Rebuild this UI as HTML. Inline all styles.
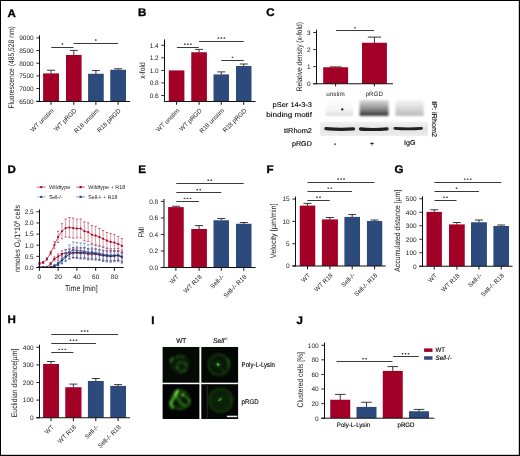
<!DOCTYPE html>
<html><head><meta charset="utf-8"><title>Figure</title>
<style>html,body{margin:0;padding:0;background:#fff;}body{width:520px;height:456px;overflow:hidden;font-family:"Liberation Sans",sans-serif;}svg{display:block;will-change:transform;}</style>
</head><body>
<svg width="520" height="456" viewBox="0 0 520 456" font-family="'Liberation Sans', sans-serif" text-rendering="geometricPrecision">
<defs>
<filter id="bl05" x="-50%" y="-50%" width="200%" height="200%"><feGaussianBlur color-interpolation-filters="sRGB" stdDeviation="0.4"/></filter>
<filter id="bl07" x="-50%" y="-50%" width="200%" height="200%"><feGaussianBlur color-interpolation-filters="sRGB" stdDeviation="0.6"/></filter>
<filter id="bl08" x="-20%" y="-20%" width="140%" height="140%"><feGaussianBlur color-interpolation-filters="sRGB" stdDeviation="0.75"/></filter>
<filter id="bl1" x="-20%" y="-20%" width="140%" height="140%"><feGaussianBlur color-interpolation-filters="sRGB" stdDeviation="0.9"/></filter>
<filter id="bl12" x="-20%" y="-20%" width="140%" height="140%"><feGaussianBlur color-interpolation-filters="sRGB" stdDeviation="1.2"/></filter>
<linearGradient id="lane1" x1="0" y1="0" x2="0" y2="1"><stop offset="0" stop-color="#fdfdfd"/><stop offset="0.6" stop-color="#f5f5f5"/><stop offset="0.9" stop-color="#e4e4e4"/><stop offset="1" stop-color="#d0d0d0"/></linearGradient>
<linearGradient id="lane2" x1="0" y1="0" x2="0" y2="1"><stop offset="0" stop-color="#dcdcdc"/><stop offset="0.4" stop-color="#a6a6a6"/><stop offset="0.75" stop-color="#6c6c6c"/><stop offset="0.92" stop-color="#3a3a3a"/><stop offset="1" stop-color="#1c1c1c"/></linearGradient>
<linearGradient id="lane3" x1="0" y1="0" x2="0" y2="1"><stop offset="0" stop-color="#f6f6f6"/><stop offset="0.5" stop-color="#dcdcdc"/><stop offset="0.9" stop-color="#c0c0c0"/><stop offset="1" stop-color="#b0b0b0"/></linearGradient>
<linearGradient id="lower" x1="0" y1="0" x2="0" y2="1"><stop offset="0" stop-color="#f2f2f2"/><stop offset="0.5" stop-color="#e4e4e4"/><stop offset="1" stop-color="#ececec"/></linearGradient>
<clipPath id="clipD"><rect x="36" y="205" width="90" height="62.4"/></clipPath>
<clipPath id="c1"><rect x="162.6" y="347" width="36.8" height="35.7"/></clipPath>
<clipPath id="c2"><rect x="201.3" y="347" width="36.8" height="35.7"/></clipPath>
<clipPath id="c3"><rect x="162.6" y="384.2" width="36.8" height="34.8"/></clipPath>
<clipPath id="c4"><rect x="201.3" y="384.2" width="36.8" height="34.8"/></clipPath>
</defs>
<rect x="0" y="0" width="520" height="456" fill="#fff"/>
<text transform="translate(7.60,16.90) scale(1.05,1)" font-size="11.0" font-weight="bold" fill="#000" stroke="#000" stroke-width="0.35" stroke-linejoin="round">A</text>
<text font-size="8.0" text-anchor="middle" fill="#1a1a1a" textLength="82.30" lengthAdjust="spacingAndGlyphs" transform="translate(14.00,67.40) rotate(-90)" >Fluorescence (485,528 nm)</text>
<line x1="51.05" y1="70.25" x2="51.05" y2="73.70" stroke="#222" stroke-width="0.9" />
<line x1="47.05" y1="70.25" x2="55.05" y2="70.25" stroke="#222" stroke-width="0.9" />
<rect x="43.10" y="73.40" width="15.90" height="27.85" fill="#a30028"/>
<line x1="73.80" y1="50.40" x2="73.80" y2="55.30" stroke="#222" stroke-width="0.9" />
<line x1="69.80" y1="50.40" x2="77.80" y2="50.40" stroke="#222" stroke-width="0.9" />
<rect x="66.00" y="55.00" width="15.60" height="46.25" fill="#a30028"/>
<line x1="95.92" y1="70.60" x2="95.92" y2="74.05" stroke="#222" stroke-width="0.9" />
<line x1="91.92" y1="70.60" x2="99.92" y2="70.60" stroke="#222" stroke-width="0.9" />
<rect x="88.10" y="73.75" width="15.65" height="27.50" fill="#2d4a7c"/>
<line x1="118.12" y1="68.75" x2="118.12" y2="70.05" stroke="#222" stroke-width="0.9" />
<line x1="114.12" y1="68.75" x2="122.12" y2="68.75" stroke="#222" stroke-width="0.9" />
<rect x="110.25" y="69.75" width="15.75" height="31.50" fill="#2d4a7c"/>
<line x1="39.50" y1="35.30" x2="39.50" y2="101.75" stroke="#111" stroke-width="1.0" />
<line x1="36.30" y1="37.90" x2="39.50" y2="37.90" stroke="#111" stroke-width="0.9" />
<text font-size="6.5" text-anchor="end" fill="#1a1a1a" x="33.70" y="40.24" >9000</text>
<line x1="36.30" y1="50.57" x2="39.50" y2="50.57" stroke="#111" stroke-width="0.9" />
<text font-size="6.5" text-anchor="end" fill="#1a1a1a" x="33.70" y="52.91" >8500</text>
<line x1="36.30" y1="63.24" x2="39.50" y2="63.24" stroke="#111" stroke-width="0.9" />
<text font-size="6.5" text-anchor="end" fill="#1a1a1a" x="33.70" y="65.58" >8000</text>
<line x1="36.30" y1="75.91" x2="39.50" y2="75.91" stroke="#111" stroke-width="0.9" />
<text font-size="6.5" text-anchor="end" fill="#1a1a1a" x="33.70" y="78.25" >7500</text>
<line x1="36.30" y1="88.58" x2="39.50" y2="88.58" stroke="#111" stroke-width="0.9" />
<text font-size="6.5" text-anchor="end" fill="#1a1a1a" x="33.70" y="90.92" >7000</text>
<line x1="36.30" y1="101.25" x2="39.50" y2="101.25" stroke="#111" stroke-width="0.9" />
<text font-size="6.5" text-anchor="end" fill="#1a1a1a" x="33.70" y="103.59" >6500</text>
<line x1="36.30" y1="101.50" x2="130.00" y2="101.50" stroke="#111" stroke-width="1.0" />
<line x1="51.05" y1="101.50" x2="51.05" y2="104.80" stroke="#111" stroke-width="1.0" />
<line x1="73.80" y1="101.50" x2="73.80" y2="104.80" stroke="#111" stroke-width="1.0" />
<line x1="95.90" y1="101.50" x2="95.90" y2="104.80" stroke="#111" stroke-width="1.0" />
<line x1="118.10" y1="101.50" x2="118.10" y2="104.80" stroke="#111" stroke-width="1.0" />
<line x1="51.25" y1="47.50" x2="73.50" y2="47.50" stroke="#3a3a3a" stroke-width="1.0" />
<rect x="61.58" y="43.35" width="1.6" height="1.4" rx="0.3" fill="#3a3a3a"/>
<line x1="73.50" y1="43.50" x2="118.00" y2="43.50" stroke="#3a3a3a" stroke-width="1.0" />
<rect x="94.95" y="39.35" width="1.6" height="1.4" rx="0.3" fill="#3a3a3a"/>
<text font-size="6.3" text-anchor="end" fill="#1a1a1a" transform="translate(54.25,111.05) rotate(-45)" >WT unstim</text>
<text font-size="6.3" text-anchor="end" fill="#1a1a1a" transform="translate(77.00,111.05) rotate(-45)" >WT pRGD</text>
<text font-size="6.3" text-anchor="end" fill="#1a1a1a" transform="translate(99.10,111.05) rotate(-45)" >R18 unstim</text>
<text font-size="6.3" text-anchor="end" fill="#1a1a1a" transform="translate(121.30,111.05) rotate(-45)" >R18 pRGD</text>
<text transform="translate(138.10,16.40) scale(1.05,1)" font-size="11.0" font-weight="bold" fill="#000" stroke="#000" stroke-width="0.35" stroke-linejoin="round">B</text>
<text font-size="8.0" text-anchor="middle" fill="#1a1a1a" textLength="16.30" lengthAdjust="spacingAndGlyphs" transform="translate(144.60,70.55) rotate(-90)" >x-fold</text>
<rect x="168.75" y="70.40" width="15.65" height="30.85" fill="#a30028"/>
<line x1="199.07" y1="49.40" x2="199.07" y2="52.55" stroke="#222" stroke-width="0.9" />
<line x1="195.07" y1="49.40" x2="203.07" y2="49.40" stroke="#222" stroke-width="0.9" />
<rect x="191.25" y="52.25" width="15.65" height="49.00" fill="#a30028"/>
<line x1="221.25" y1="71.90" x2="221.25" y2="74.70" stroke="#222" stroke-width="0.9" />
<line x1="217.25" y1="71.90" x2="225.25" y2="71.90" stroke="#222" stroke-width="0.9" />
<rect x="213.50" y="74.40" width="15.50" height="26.85" fill="#2d4a7c"/>
<line x1="243.75" y1="64.00" x2="243.75" y2="66.30" stroke="#222" stroke-width="0.9" />
<line x1="239.75" y1="64.00" x2="247.75" y2="64.00" stroke="#222" stroke-width="0.9" />
<rect x="236.00" y="66.00" width="15.50" height="35.25" fill="#2d4a7c"/>
<line x1="164.50" y1="39.40" x2="164.50" y2="101.75" stroke="#111" stroke-width="1.0" />
<line x1="161.30" y1="45.25" x2="164.50" y2="45.25" stroke="#111" stroke-width="0.9" />
<text font-size="6.5" text-anchor="end" fill="#1a1a1a" x="158.70" y="47.59" >1.4</text>
<line x1="161.30" y1="57.80" x2="164.50" y2="57.80" stroke="#111" stroke-width="0.9" />
<text font-size="6.5" text-anchor="end" fill="#1a1a1a" x="158.70" y="60.14" >1.2</text>
<line x1="161.30" y1="70.40" x2="164.50" y2="70.40" stroke="#111" stroke-width="0.9" />
<text font-size="6.5" text-anchor="end" fill="#1a1a1a" x="158.70" y="72.74" >1.0</text>
<line x1="161.30" y1="82.90" x2="164.50" y2="82.90" stroke="#111" stroke-width="0.9" />
<text font-size="6.5" text-anchor="end" fill="#1a1a1a" x="158.70" y="85.24" >0.8</text>
<line x1="161.30" y1="95.50" x2="164.50" y2="95.50" stroke="#111" stroke-width="0.9" />
<text font-size="6.5" text-anchor="end" fill="#1a1a1a" x="158.70" y="97.84" >0.6</text>
<line x1="164.50" y1="101.50" x2="255.60" y2="101.50" stroke="#111" stroke-width="1.0" />
<line x1="176.60" y1="101.50" x2="176.60" y2="104.80" stroke="#111" stroke-width="1.0" />
<line x1="199.10" y1="101.50" x2="199.10" y2="104.80" stroke="#111" stroke-width="1.0" />
<line x1="221.25" y1="101.50" x2="221.25" y2="104.80" stroke="#111" stroke-width="1.0" />
<line x1="243.75" y1="101.50" x2="243.75" y2="104.80" stroke="#111" stroke-width="1.0" />
<line x1="176.90" y1="47.50" x2="198.75" y2="47.50" stroke="#3a3a3a" stroke-width="1.0" />
<rect x="184.02" y="43.50" width="1.6" height="1.4" rx="0.3" fill="#3a3a3a"/>
<rect x="187.02" y="43.50" width="1.6" height="1.4" rx="0.3" fill="#3a3a3a"/>
<rect x="190.02" y="43.50" width="1.6" height="1.4" rx="0.3" fill="#3a3a3a"/>
<line x1="199.00" y1="41.50" x2="243.75" y2="41.50" stroke="#3a3a3a" stroke-width="1.0" />
<rect x="217.57" y="37.35" width="1.6" height="1.4" rx="0.3" fill="#3a3a3a"/>
<rect x="220.57" y="37.35" width="1.6" height="1.4" rx="0.3" fill="#3a3a3a"/>
<rect x="223.57" y="37.35" width="1.6" height="1.4" rx="0.3" fill="#3a3a3a"/>
<line x1="221.25" y1="60.50" x2="243.75" y2="60.50" stroke="#3a3a3a" stroke-width="1.0" />
<rect x="231.70" y="56.70" width="1.6" height="1.4" rx="0.3" fill="#3a3a3a"/>
<text font-size="6.3" text-anchor="end" fill="#1a1a1a" transform="translate(179.80,111.05) rotate(-45)" >WT unstim</text>
<text font-size="6.3" text-anchor="end" fill="#1a1a1a" transform="translate(202.30,111.05) rotate(-45)" >WT pRGD</text>
<text font-size="6.3" text-anchor="end" fill="#1a1a1a" transform="translate(224.45,111.05) rotate(-45)" >R18 unstim</text>
<text font-size="6.3" text-anchor="end" fill="#1a1a1a" transform="translate(246.95,111.05) rotate(-45)" >R18 pRGD</text>
<text transform="translate(266.30,16.30) scale(1.05,1)" font-size="11.0" font-weight="bold" fill="#000" stroke="#000" stroke-width="0.35" stroke-linejoin="round">C</text>
<text font-size="8.0" text-anchor="middle" fill="#1a1a1a" textLength="69.20" lengthAdjust="spacingAndGlyphs" transform="translate(302.10,56.70) rotate(-90)" >Relative density (x-fold)</text>
<line x1="335.65" y1="66.90" x2="335.65" y2="67.55" stroke="#222" stroke-width="0.9" />
<line x1="329.65" y1="66.90" x2="341.65" y2="66.90" stroke="#222" stroke-width="0.9" />
<rect x="323.20" y="67.25" width="24.90" height="16.50" fill="#a30028"/>
<line x1="374.45" y1="37.10" x2="374.45" y2="43.05" stroke="#222" stroke-width="0.9" />
<line x1="367.85" y1="37.10" x2="381.05" y2="37.10" stroke="#222" stroke-width="0.9" />
<rect x="362.00" y="42.75" width="24.90" height="41.00" fill="#a30028"/>
<line x1="316.50" y1="29.75" x2="316.50" y2="84.25" stroke="#111" stroke-width="1.0" />
<line x1="313.30" y1="32.50" x2="316.50" y2="32.50" stroke="#111" stroke-width="0.9" />
<text font-size="6.5" text-anchor="end" fill="#1a1a1a" x="310.70" y="34.84" >3</text>
<line x1="313.30" y1="49.60" x2="316.50" y2="49.60" stroke="#111" stroke-width="0.9" />
<text font-size="6.5" text-anchor="end" fill="#1a1a1a" x="310.70" y="51.94" >2</text>
<line x1="313.30" y1="66.65" x2="316.50" y2="66.65" stroke="#111" stroke-width="0.9" />
<text font-size="6.5" text-anchor="end" fill="#1a1a1a" x="310.70" y="68.99" >1</text>
<line x1="313.30" y1="83.75" x2="316.50" y2="83.75" stroke="#111" stroke-width="0.9" />
<text font-size="6.5" text-anchor="end" fill="#1a1a1a" x="310.70" y="86.09" >0</text>
<line x1="313.30" y1="83.75" x2="392.90" y2="83.75" stroke="#111" stroke-width="1.0" />
<line x1="335.60" y1="83.75" x2="335.60" y2="86.35" stroke="#111" stroke-width="1.0" />
<line x1="374.40" y1="83.75" x2="374.40" y2="86.35" stroke="#111" stroke-width="1.0" />
<line x1="336.00" y1="30.50" x2="374.00" y2="30.50" stroke="#3a3a3a" stroke-width="1.0" />
<rect x="354.20" y="27.10" width="1.6" height="1.4" rx="0.3" fill="#3a3a3a"/>
<text font-size="6.3" text-anchor="middle" fill="#1a1a1a" textLength="18.50" lengthAdjust="spacingAndGlyphs" x="335.50" y="96.00" >unstim</text>
<text font-size="6.3" text-anchor="middle" fill="#1a1a1a" textLength="17.30" lengthAdjust="spacingAndGlyphs" x="374.30" y="96.00" >pRGD</text>
<g filter="url(#bl1)">
<rect x="325.6" y="100" width="27.6" height="15.8" fill="url(#lane1)"/>
<rect x="359.6" y="100" width="29" height="15.8" fill="url(#lane2)"/>
<rect x="395.4" y="100" width="28.4" height="15.8" fill="url(#lane3)"/>
</g>
<circle cx="342.3" cy="109.4" r="1.15" fill="#1a1a1a" filter="url(#bl05)"/>
<rect x="320.3" y="121.7" width="107.6" height="14.2" fill="url(#lower)"/>
<g filter="url(#bl07)">
<path d="M326,128.6 Q340,130.0 353.5,128.9" stroke="#202020" stroke-width="3.3" fill="none" stroke-linecap="round"/>
<path d="M360.5,129.0 Q374,130.2 387,128.9" stroke="#202020" stroke-width="3.3" fill="none" stroke-linecap="round"/>
<path d="M395,128.4 Q408,129.4 421.5,128.4" stroke="#222" stroke-width="2.9" fill="none" stroke-linecap="round"/>
</g>
<text font-size="7.0" text-anchor="end" fill="#000" stroke="#000" stroke-width="0.12" textLength="39.30" lengthAdjust="spacingAndGlyphs" x="311.90" y="106.90" >pSer 14-3-3</text>
<text font-size="7.0" text-anchor="end" fill="#000" stroke="#000" stroke-width="0.12" textLength="45.60" lengthAdjust="spacingAndGlyphs" x="311.90" y="116.80" >binding motif</text>
<text font-size="7.0" text-anchor="end" fill="#000" stroke="#000" stroke-width="0.12" textLength="27.90" lengthAdjust="spacingAndGlyphs" x="311.90" y="132.50" >tIRhom2</text>
<text font-size="7.0" text-anchor="end" fill="#000" stroke="#000" stroke-width="0.12" textLength="20.00" lengthAdjust="spacingAndGlyphs" x="311.90" y="146.30" >pRGD</text>
<text font-size="7.0" text-anchor="middle" fill="#000" stroke="#000" stroke-width="0.12" x="335.00" y="145.60" >-</text>
<text font-size="7.0" text-anchor="middle" fill="#000" stroke="#000" stroke-width="0.12" x="372.00" y="145.80" >+</text>
<text font-size="7.0" text-anchor="middle" fill="#000" stroke="#000" stroke-width="0.12" textLength="11.50" lengthAdjust="spacingAndGlyphs" x="409.80" y="145.30" >IgG</text>
<text font-size="7.0" text-anchor="start" fill="#000" stroke="#000" stroke-width="0.12" textLength="35.60" lengthAdjust="spacingAndGlyphs" transform="translate(432.20,101.30) rotate(90)" >IP: iRhom2</text>
<text transform="translate(7.50,172.60) scale(1.05,1)" font-size="11.0" font-weight="bold" fill="#000" stroke="#000" stroke-width="0.35" stroke-linejoin="round">D</text>
<line x1="36.90" y1="187.10" x2="45.60" y2="187.10" stroke="#c0405c" stroke-width="0.8" />
<circle cx="41.25" cy="187.10" r="1.2" fill="#a30028"/>
<text font-size="5.6" text-anchor="start" fill="#1a1a1a" textLength="21.50" lengthAdjust="spacingAndGlyphs" x="48.90" y="189.10" >Wildtype</text>
<line x1="36.90" y1="196.90" x2="45.60" y2="196.90" stroke="#8aa0c8" stroke-width="0.8" />
<circle cx="41.25" cy="196.90" r="1.2" fill="#24407a"/>
<text font-size="5.6" text-anchor="start" fill="#1a1a1a" textLength="13.50" lengthAdjust="spacingAndGlyphs" x="48.90" y="198.90" >Sell-/-</text>
<line x1="76.30" y1="187.10" x2="85.00" y2="187.10" stroke="#c0405c" stroke-width="0.8" />
<rect x="79.55" y="186.00" width="2.2" height="2.2" fill="#a30028"/>
<text font-size="5.6" text-anchor="start" fill="#1a1a1a" textLength="37.00" lengthAdjust="spacingAndGlyphs" x="88.30" y="189.10" >Wildtype + R18</text>
<line x1="76.30" y1="196.90" x2="85.00" y2="196.90" stroke="#6f88b8" stroke-width="0.8" />
<rect x="79.55" y="195.80" width="2.2" height="2.2" fill="#24407a"/>
<text font-size="5.6" text-anchor="start" fill="#1a1a1a" textLength="29.00" lengthAdjust="spacingAndGlyphs" x="88.30" y="198.90" >Sell-/- + R18</text>
<text font-size="8.0" text-anchor="middle" fill="#1a1a1a" textLength="67.00" lengthAdjust="spacingAndGlyphs" transform="translate(19.50,238.40) rotate(-90)" >nmoles O<tspan font-size="4.8" dy="1.4">2</tspan><tspan dy="-1.4">/1*10</tspan><tspan font-size="4.8" dy="-2.8">6</tspan><tspan dy="2.8"> cells</tspan></text>
<g clip-path="url(#clipD)">
<line x1="39.40" y1="266.80" x2="39.40" y2="267.20" stroke="#cc6078" stroke-width="0.7" />
<line x1="38.25" y1="266.80" x2="40.55" y2="266.80" stroke="#b83050" stroke-width="0.75" />
<line x1="43.15" y1="266.80" x2="43.15" y2="267.20" stroke="#cc6078" stroke-width="0.7" />
<line x1="42.00" y1="266.80" x2="44.30" y2="266.80" stroke="#b83050" stroke-width="0.75" />
<line x1="46.90" y1="266.40" x2="46.90" y2="267.20" stroke="#cc6078" stroke-width="0.7" />
<line x1="45.75" y1="266.40" x2="48.05" y2="266.40" stroke="#b83050" stroke-width="0.75" />
<line x1="50.65" y1="262.50" x2="50.65" y2="264.90" stroke="#cc6078" stroke-width="0.7" />
<line x1="49.50" y1="262.50" x2="51.80" y2="262.50" stroke="#b83050" stroke-width="0.75" />
<line x1="49.50" y1="264.90" x2="51.80" y2="264.90" stroke="#b83050" stroke-width="0.75" />
<line x1="54.40" y1="256.90" x2="54.40" y2="260.90" stroke="#cc6078" stroke-width="0.7" />
<line x1="53.25" y1="256.90" x2="55.55" y2="256.90" stroke="#b83050" stroke-width="0.75" />
<line x1="53.25" y1="260.90" x2="55.55" y2="260.90" stroke="#b83050" stroke-width="0.75" />
<line x1="58.15" y1="253.90" x2="58.15" y2="259.10" stroke="#cc6078" stroke-width="0.7" />
<line x1="57.00" y1="253.90" x2="59.30" y2="253.90" stroke="#b83050" stroke-width="0.75" />
<line x1="57.00" y1="259.10" x2="59.30" y2="259.10" stroke="#b83050" stroke-width="0.75" />
<line x1="61.90" y1="250.90" x2="61.90" y2="256.90" stroke="#cc6078" stroke-width="0.7" />
<line x1="60.75" y1="250.90" x2="63.05" y2="250.90" stroke="#b83050" stroke-width="0.75" />
<line x1="60.75" y1="256.90" x2="63.05" y2="256.90" stroke="#b83050" stroke-width="0.75" />
<line x1="65.65" y1="249.50" x2="65.65" y2="256.50" stroke="#cc6078" stroke-width="0.7" />
<line x1="64.50" y1="249.50" x2="66.80" y2="249.50" stroke="#b83050" stroke-width="0.75" />
<line x1="64.50" y1="256.50" x2="66.80" y2="256.50" stroke="#b83050" stroke-width="0.75" />
<line x1="69.40" y1="248.30" x2="69.40" y2="256.30" stroke="#cc6078" stroke-width="0.7" />
<line x1="68.25" y1="248.30" x2="70.55" y2="248.30" stroke="#b83050" stroke-width="0.75" />
<line x1="68.25" y1="256.30" x2="70.55" y2="256.30" stroke="#b83050" stroke-width="0.75" />
<line x1="73.15" y1="248.70" x2="73.15" y2="257.70" stroke="#cc6078" stroke-width="0.7" />
<line x1="72.00" y1="248.70" x2="74.30" y2="248.70" stroke="#b83050" stroke-width="0.75" />
<line x1="72.00" y1="257.70" x2="74.30" y2="257.70" stroke="#b83050" stroke-width="0.75" />
<line x1="76.90" y1="248.40" x2="76.90" y2="257.60" stroke="#cc6078" stroke-width="0.7" />
<line x1="75.75" y1="248.40" x2="78.05" y2="248.40" stroke="#b83050" stroke-width="0.75" />
<line x1="75.75" y1="257.60" x2="78.05" y2="257.60" stroke="#b83050" stroke-width="0.75" />
<line x1="80.65" y1="248.60" x2="80.65" y2="258.20" stroke="#cc6078" stroke-width="0.7" />
<line x1="79.50" y1="248.60" x2="81.80" y2="248.60" stroke="#b83050" stroke-width="0.75" />
<line x1="79.50" y1="258.20" x2="81.80" y2="258.20" stroke="#b83050" stroke-width="0.75" />
<line x1="84.40" y1="248.20" x2="84.40" y2="258.20" stroke="#cc6078" stroke-width="0.7" />
<line x1="83.25" y1="248.20" x2="85.55" y2="248.20" stroke="#b83050" stroke-width="0.75" />
<line x1="83.25" y1="258.20" x2="85.55" y2="258.20" stroke="#b83050" stroke-width="0.75" />
<line x1="88.15" y1="249.20" x2="88.15" y2="259.20" stroke="#cc6078" stroke-width="0.7" />
<line x1="87.00" y1="249.20" x2="89.30" y2="249.20" stroke="#b83050" stroke-width="0.75" />
<line x1="87.00" y1="259.20" x2="89.30" y2="259.20" stroke="#b83050" stroke-width="0.75" />
<line x1="91.90" y1="249.40" x2="91.90" y2="259.80" stroke="#cc6078" stroke-width="0.7" />
<line x1="90.75" y1="249.40" x2="93.05" y2="249.40" stroke="#b83050" stroke-width="0.75" />
<line x1="90.75" y1="259.80" x2="93.05" y2="259.80" stroke="#b83050" stroke-width="0.75" />
<line x1="95.65" y1="248.80" x2="95.65" y2="259.20" stroke="#cc6078" stroke-width="0.7" />
<line x1="94.50" y1="248.80" x2="96.80" y2="248.80" stroke="#b83050" stroke-width="0.75" />
<line x1="94.50" y1="259.20" x2="96.80" y2="259.20" stroke="#b83050" stroke-width="0.75" />
<line x1="99.40" y1="249.80" x2="99.40" y2="259.80" stroke="#cc6078" stroke-width="0.7" />
<line x1="98.25" y1="249.80" x2="100.55" y2="249.80" stroke="#b83050" stroke-width="0.75" />
<line x1="98.25" y1="259.80" x2="100.55" y2="259.80" stroke="#b83050" stroke-width="0.75" />
<line x1="103.15" y1="250.20" x2="103.15" y2="260.20" stroke="#cc6078" stroke-width="0.7" />
<line x1="102.00" y1="250.20" x2="104.30" y2="250.20" stroke="#b83050" stroke-width="0.75" />
<line x1="102.00" y1="260.20" x2="104.30" y2="260.20" stroke="#b83050" stroke-width="0.75" />
<line x1="106.90" y1="250.60" x2="106.90" y2="260.60" stroke="#cc6078" stroke-width="0.7" />
<line x1="105.75" y1="250.60" x2="108.05" y2="250.60" stroke="#b83050" stroke-width="0.75" />
<line x1="105.75" y1="260.60" x2="108.05" y2="260.60" stroke="#b83050" stroke-width="0.75" />
<line x1="110.65" y1="250.60" x2="110.65" y2="261.00" stroke="#cc6078" stroke-width="0.7" />
<line x1="109.50" y1="250.60" x2="111.80" y2="250.60" stroke="#b83050" stroke-width="0.75" />
<line x1="109.50" y1="261.00" x2="111.80" y2="261.00" stroke="#b83050" stroke-width="0.75" />
<line x1="114.40" y1="250.60" x2="114.40" y2="260.60" stroke="#cc6078" stroke-width="0.7" />
<line x1="113.25" y1="250.60" x2="115.55" y2="250.60" stroke="#b83050" stroke-width="0.75" />
<line x1="113.25" y1="260.60" x2="115.55" y2="260.60" stroke="#b83050" stroke-width="0.75" />
<line x1="118.15" y1="250.40" x2="118.15" y2="260.40" stroke="#cc6078" stroke-width="0.7" />
<line x1="117.00" y1="250.40" x2="119.30" y2="250.40" stroke="#b83050" stroke-width="0.75" />
<line x1="117.00" y1="260.40" x2="119.30" y2="260.40" stroke="#b83050" stroke-width="0.75" />
<line x1="121.90" y1="251.80" x2="121.90" y2="261.80" stroke="#cc6078" stroke-width="0.7" />
<line x1="120.75" y1="251.80" x2="123.05" y2="251.80" stroke="#b83050" stroke-width="0.75" />
<line x1="120.75" y1="261.80" x2="123.05" y2="261.80" stroke="#b83050" stroke-width="0.75" />
<polyline points="39.40,267.30 43.15,267.30 46.90,267.00 50.65,263.70 54.40,258.90 58.15,256.50 61.90,253.90 65.65,253.00 69.40,252.30 73.15,253.20 76.90,253.00 80.65,253.40 84.40,253.20 88.15,254.20 91.90,254.60 95.65,254.00 99.40,254.80 103.15,255.20 106.90,255.60 110.65,255.80 114.40,255.60 118.15,255.40 121.90,256.80" fill="none" stroke="#b01035" stroke-width="0.8"/>
<rect x="38.40" y="266.30" width="2" height="2" fill="#a30028"/>
<rect x="42.15" y="266.30" width="2" height="2" fill="#a30028"/>
<rect x="45.90" y="266.00" width="2" height="2" fill="#a30028"/>
<rect x="49.65" y="262.70" width="2" height="2" fill="#a30028"/>
<rect x="53.40" y="257.90" width="2" height="2" fill="#a30028"/>
<rect x="57.15" y="255.50" width="2" height="2" fill="#a30028"/>
<rect x="60.90" y="252.90" width="2" height="2" fill="#a30028"/>
<rect x="64.65" y="252.00" width="2" height="2" fill="#a30028"/>
<rect x="68.40" y="251.30" width="2" height="2" fill="#a30028"/>
<rect x="72.15" y="252.20" width="2" height="2" fill="#a30028"/>
<rect x="75.90" y="252.00" width="2" height="2" fill="#a30028"/>
<rect x="79.65" y="252.40" width="2" height="2" fill="#a30028"/>
<rect x="83.40" y="252.20" width="2" height="2" fill="#a30028"/>
<rect x="87.15" y="253.20" width="2" height="2" fill="#a30028"/>
<rect x="90.90" y="253.60" width="2" height="2" fill="#a30028"/>
<rect x="94.65" y="253.00" width="2" height="2" fill="#a30028"/>
<rect x="98.40" y="253.80" width="2" height="2" fill="#a30028"/>
<rect x="102.15" y="254.20" width="2" height="2" fill="#a30028"/>
<rect x="105.90" y="254.60" width="2" height="2" fill="#a30028"/>
<rect x="109.65" y="254.80" width="2" height="2" fill="#a30028"/>
<rect x="113.40" y="254.60" width="2" height="2" fill="#a30028"/>
<rect x="117.15" y="254.40" width="2" height="2" fill="#a30028"/>
<rect x="120.90" y="255.80" width="2" height="2" fill="#a30028"/>
<line x1="39.40" y1="267.00" x2="39.40" y2="267.20" stroke="#9cb0d6" stroke-width="0.7" />
<line x1="38.25" y1="267.00" x2="40.55" y2="267.00" stroke="#4a66a0" stroke-width="0.75" />
<line x1="43.15" y1="267.00" x2="43.15" y2="267.20" stroke="#9cb0d6" stroke-width="0.7" />
<line x1="42.00" y1="267.00" x2="44.30" y2="267.00" stroke="#4a66a0" stroke-width="0.75" />
<line x1="46.90" y1="267.00" x2="46.90" y2="267.20" stroke="#9cb0d6" stroke-width="0.7" />
<line x1="45.75" y1="267.00" x2="48.05" y2="267.00" stroke="#4a66a0" stroke-width="0.75" />
<line x1="50.65" y1="266.60" x2="50.65" y2="267.20" stroke="#9cb0d6" stroke-width="0.7" />
<line x1="49.50" y1="266.60" x2="51.80" y2="266.60" stroke="#4a66a0" stroke-width="0.75" />
<line x1="54.40" y1="264.50" x2="54.40" y2="266.90" stroke="#9cb0d6" stroke-width="0.7" />
<line x1="53.25" y1="264.50" x2="55.55" y2="264.50" stroke="#4a66a0" stroke-width="0.75" />
<line x1="53.25" y1="266.90" x2="55.55" y2="266.90" stroke="#4a66a0" stroke-width="0.75" />
<line x1="58.15" y1="260.60" x2="58.15" y2="265.40" stroke="#9cb0d6" stroke-width="0.7" />
<line x1="57.00" y1="260.60" x2="59.30" y2="260.60" stroke="#4a66a0" stroke-width="0.75" />
<line x1="57.00" y1="265.40" x2="59.30" y2="265.40" stroke="#4a66a0" stroke-width="0.75" />
<line x1="61.90" y1="255.60" x2="61.90" y2="263.60" stroke="#9cb0d6" stroke-width="0.7" />
<line x1="60.75" y1="255.60" x2="63.05" y2="255.60" stroke="#4a66a0" stroke-width="0.75" />
<line x1="60.75" y1="263.60" x2="63.05" y2="263.60" stroke="#4a66a0" stroke-width="0.75" />
<line x1="65.65" y1="250.10" x2="65.65" y2="261.10" stroke="#9cb0d6" stroke-width="0.7" />
<line x1="64.50" y1="250.10" x2="66.80" y2="250.10" stroke="#4a66a0" stroke-width="0.75" />
<line x1="64.50" y1="261.10" x2="66.80" y2="261.10" stroke="#4a66a0" stroke-width="0.75" />
<line x1="69.40" y1="245.10" x2="69.40" y2="259.10" stroke="#9cb0d6" stroke-width="0.7" />
<line x1="68.25" y1="245.10" x2="70.55" y2="245.10" stroke="#4a66a0" stroke-width="0.75" />
<line x1="68.25" y1="259.10" x2="70.55" y2="259.10" stroke="#4a66a0" stroke-width="0.75" />
<line x1="73.15" y1="242.00" x2="73.15" y2="258.00" stroke="#9cb0d6" stroke-width="0.7" />
<line x1="72.00" y1="242.00" x2="74.30" y2="242.00" stroke="#4a66a0" stroke-width="0.75" />
<line x1="72.00" y1="258.00" x2="74.30" y2="258.00" stroke="#4a66a0" stroke-width="0.75" />
<line x1="76.90" y1="242.60" x2="76.90" y2="258.60" stroke="#9cb0d6" stroke-width="0.7" />
<line x1="75.75" y1="242.60" x2="78.05" y2="242.60" stroke="#4a66a0" stroke-width="0.75" />
<line x1="75.75" y1="258.60" x2="78.05" y2="258.60" stroke="#4a66a0" stroke-width="0.75" />
<line x1="80.65" y1="243.00" x2="80.65" y2="259.00" stroke="#9cb0d6" stroke-width="0.7" />
<line x1="79.50" y1="243.00" x2="81.80" y2="243.00" stroke="#4a66a0" stroke-width="0.75" />
<line x1="79.50" y1="259.00" x2="81.80" y2="259.00" stroke="#4a66a0" stroke-width="0.75" />
<line x1="84.40" y1="243.20" x2="84.40" y2="259.20" stroke="#9cb0d6" stroke-width="0.7" />
<line x1="83.25" y1="243.20" x2="85.55" y2="243.20" stroke="#4a66a0" stroke-width="0.75" />
<line x1="83.25" y1="259.20" x2="85.55" y2="259.20" stroke="#4a66a0" stroke-width="0.75" />
<line x1="88.15" y1="244.80" x2="88.15" y2="260.00" stroke="#9cb0d6" stroke-width="0.7" />
<line x1="87.00" y1="244.80" x2="89.30" y2="244.80" stroke="#4a66a0" stroke-width="0.75" />
<line x1="87.00" y1="260.00" x2="89.30" y2="260.00" stroke="#4a66a0" stroke-width="0.75" />
<line x1="91.90" y1="244.40" x2="91.90" y2="259.60" stroke="#9cb0d6" stroke-width="0.7" />
<line x1="90.75" y1="244.40" x2="93.05" y2="244.40" stroke="#4a66a0" stroke-width="0.75" />
<line x1="90.75" y1="259.60" x2="93.05" y2="259.60" stroke="#4a66a0" stroke-width="0.75" />
<line x1="95.65" y1="245.40" x2="95.65" y2="260.20" stroke="#9cb0d6" stroke-width="0.7" />
<line x1="94.50" y1="245.40" x2="96.80" y2="245.40" stroke="#4a66a0" stroke-width="0.75" />
<line x1="94.50" y1="260.20" x2="96.80" y2="260.20" stroke="#4a66a0" stroke-width="0.75" />
<line x1="99.40" y1="246.20" x2="99.40" y2="260.60" stroke="#9cb0d6" stroke-width="0.7" />
<line x1="98.25" y1="246.20" x2="100.55" y2="246.20" stroke="#4a66a0" stroke-width="0.75" />
<line x1="98.25" y1="260.60" x2="100.55" y2="260.60" stroke="#4a66a0" stroke-width="0.75" />
<line x1="103.15" y1="247.40" x2="103.15" y2="261.40" stroke="#9cb0d6" stroke-width="0.7" />
<line x1="102.00" y1="247.40" x2="104.30" y2="247.40" stroke="#4a66a0" stroke-width="0.75" />
<line x1="102.00" y1="261.40" x2="104.30" y2="261.40" stroke="#4a66a0" stroke-width="0.75" />
<line x1="106.90" y1="248.00" x2="106.90" y2="262.00" stroke="#9cb0d6" stroke-width="0.7" />
<line x1="105.75" y1="248.00" x2="108.05" y2="248.00" stroke="#4a66a0" stroke-width="0.75" />
<line x1="105.75" y1="262.00" x2="108.05" y2="262.00" stroke="#4a66a0" stroke-width="0.75" />
<line x1="110.65" y1="248.60" x2="110.65" y2="262.20" stroke="#9cb0d6" stroke-width="0.7" />
<line x1="109.50" y1="248.60" x2="111.80" y2="248.60" stroke="#4a66a0" stroke-width="0.75" />
<line x1="109.50" y1="262.20" x2="111.80" y2="262.20" stroke="#4a66a0" stroke-width="0.75" />
<line x1="114.40" y1="248.60" x2="114.40" y2="261.80" stroke="#9cb0d6" stroke-width="0.7" />
<line x1="113.25" y1="248.60" x2="115.55" y2="248.60" stroke="#4a66a0" stroke-width="0.75" />
<line x1="113.25" y1="261.80" x2="115.55" y2="261.80" stroke="#4a66a0" stroke-width="0.75" />
<line x1="118.15" y1="248.40" x2="118.15" y2="261.60" stroke="#9cb0d6" stroke-width="0.7" />
<line x1="117.00" y1="248.40" x2="119.30" y2="248.40" stroke="#4a66a0" stroke-width="0.75" />
<line x1="117.00" y1="261.60" x2="119.30" y2="261.60" stroke="#4a66a0" stroke-width="0.75" />
<line x1="121.90" y1="250.00" x2="121.90" y2="263.20" stroke="#9cb0d6" stroke-width="0.7" />
<line x1="120.75" y1="250.00" x2="123.05" y2="250.00" stroke="#4a66a0" stroke-width="0.75" />
<line x1="120.75" y1="263.20" x2="123.05" y2="263.20" stroke="#4a66a0" stroke-width="0.75" />
<polyline points="39.40,267.40 43.15,267.40 46.90,267.40 50.65,267.20 54.40,265.70 58.15,263.00 61.90,259.60 65.65,255.60 69.40,252.10 73.15,250.00 76.90,250.60 80.65,251.00 84.40,251.20 88.15,252.40 91.90,252.00 95.65,252.80 99.40,253.40 103.15,254.40 106.90,255.00 110.65,255.40 114.40,255.20 118.15,255.00 121.90,256.60" fill="none" stroke="#3a5590" stroke-width="0.8"/>
<circle cx="39.40" cy="267.40" r="1.05" fill="#2b4684"/>
<circle cx="43.15" cy="267.40" r="1.05" fill="#2b4684"/>
<circle cx="46.90" cy="267.40" r="1.05" fill="#2b4684"/>
<circle cx="50.65" cy="267.20" r="1.05" fill="#2b4684"/>
<circle cx="54.40" cy="265.70" r="1.05" fill="#2b4684"/>
<circle cx="58.15" cy="263.00" r="1.05" fill="#2b4684"/>
<circle cx="61.90" cy="259.60" r="1.05" fill="#2b4684"/>
<circle cx="65.65" cy="255.60" r="1.05" fill="#2b4684"/>
<circle cx="69.40" cy="252.10" r="1.05" fill="#2b4684"/>
<circle cx="73.15" cy="250.00" r="1.05" fill="#2b4684"/>
<circle cx="76.90" cy="250.60" r="1.05" fill="#2b4684"/>
<circle cx="80.65" cy="251.00" r="1.05" fill="#2b4684"/>
<circle cx="84.40" cy="251.20" r="1.05" fill="#2b4684"/>
<circle cx="88.15" cy="252.40" r="1.05" fill="#2b4684"/>
<circle cx="91.90" cy="252.00" r="1.05" fill="#2b4684"/>
<circle cx="95.65" cy="252.80" r="1.05" fill="#2b4684"/>
<circle cx="99.40" cy="253.40" r="1.05" fill="#2b4684"/>
<circle cx="103.15" cy="254.40" r="1.05" fill="#2b4684"/>
<circle cx="106.90" cy="255.00" r="1.05" fill="#2b4684"/>
<circle cx="110.65" cy="255.40" r="1.05" fill="#2b4684"/>
<circle cx="114.40" cy="255.20" r="1.05" fill="#2b4684"/>
<circle cx="118.15" cy="255.00" r="1.05" fill="#2b4684"/>
<circle cx="121.90" cy="256.60" r="1.05" fill="#2b4684"/>
<line x1="39.40" y1="267.00" x2="39.40" y2="267.20" stroke="#6a82b4" stroke-width="0.7" />
<line x1="38.25" y1="267.00" x2="40.55" y2="267.00" stroke="#2a4480" stroke-width="0.75" />
<line x1="43.15" y1="267.00" x2="43.15" y2="267.20" stroke="#6a82b4" stroke-width="0.7" />
<line x1="42.00" y1="267.00" x2="44.30" y2="267.00" stroke="#2a4480" stroke-width="0.75" />
<line x1="46.90" y1="267.00" x2="46.90" y2="267.20" stroke="#6a82b4" stroke-width="0.7" />
<line x1="45.75" y1="267.00" x2="48.05" y2="267.00" stroke="#2a4480" stroke-width="0.75" />
<line x1="50.65" y1="266.80" x2="50.65" y2="267.20" stroke="#6a82b4" stroke-width="0.7" />
<line x1="49.50" y1="266.80" x2="51.80" y2="266.80" stroke="#2a4480" stroke-width="0.75" />
<line x1="54.40" y1="265.50" x2="54.40" y2="267.20" stroke="#6a82b4" stroke-width="0.7" />
<line x1="53.25" y1="265.50" x2="55.55" y2="265.50" stroke="#2a4480" stroke-width="0.75" />
<line x1="58.15" y1="262.40" x2="58.15" y2="266.00" stroke="#6a82b4" stroke-width="0.7" />
<line x1="57.00" y1="262.40" x2="59.30" y2="262.40" stroke="#2a4480" stroke-width="0.75" />
<line x1="57.00" y1="266.00" x2="59.30" y2="266.00" stroke="#2a4480" stroke-width="0.75" />
<line x1="61.90" y1="258.20" x2="61.90" y2="263.80" stroke="#6a82b4" stroke-width="0.7" />
<line x1="60.75" y1="258.20" x2="63.05" y2="258.20" stroke="#2a4480" stroke-width="0.75" />
<line x1="60.75" y1="263.80" x2="63.05" y2="263.80" stroke="#2a4480" stroke-width="0.75" />
<line x1="65.65" y1="253.40" x2="65.65" y2="261.00" stroke="#6a82b4" stroke-width="0.7" />
<line x1="64.50" y1="253.40" x2="66.80" y2="253.40" stroke="#2a4480" stroke-width="0.75" />
<line x1="64.50" y1="261.00" x2="66.80" y2="261.00" stroke="#2a4480" stroke-width="0.75" />
<line x1="69.40" y1="249.60" x2="69.40" y2="258.80" stroke="#6a82b4" stroke-width="0.7" />
<line x1="68.25" y1="249.60" x2="70.55" y2="249.60" stroke="#2a4480" stroke-width="0.75" />
<line x1="68.25" y1="258.80" x2="70.55" y2="258.80" stroke="#2a4480" stroke-width="0.75" />
<line x1="73.15" y1="247.60" x2="73.15" y2="257.60" stroke="#6a82b4" stroke-width="0.7" />
<line x1="72.00" y1="247.60" x2="74.30" y2="247.60" stroke="#2a4480" stroke-width="0.75" />
<line x1="72.00" y1="257.60" x2="74.30" y2="257.60" stroke="#2a4480" stroke-width="0.75" />
<line x1="76.90" y1="247.20" x2="76.90" y2="257.60" stroke="#6a82b4" stroke-width="0.7" />
<line x1="75.75" y1="247.20" x2="78.05" y2="247.20" stroke="#2a4480" stroke-width="0.75" />
<line x1="75.75" y1="257.60" x2="78.05" y2="257.60" stroke="#2a4480" stroke-width="0.75" />
<line x1="80.65" y1="247.60" x2="80.65" y2="258.00" stroke="#6a82b4" stroke-width="0.7" />
<line x1="79.50" y1="247.60" x2="81.80" y2="247.60" stroke="#2a4480" stroke-width="0.75" />
<line x1="79.50" y1="258.00" x2="81.80" y2="258.00" stroke="#2a4480" stroke-width="0.75" />
<line x1="84.40" y1="247.40" x2="84.40" y2="257.80" stroke="#6a82b4" stroke-width="0.7" />
<line x1="83.25" y1="247.40" x2="85.55" y2="247.40" stroke="#2a4480" stroke-width="0.75" />
<line x1="83.25" y1="257.80" x2="85.55" y2="257.80" stroke="#2a4480" stroke-width="0.75" />
<line x1="88.15" y1="248.60" x2="88.15" y2="258.60" stroke="#6a82b4" stroke-width="0.7" />
<line x1="87.00" y1="248.60" x2="89.30" y2="248.60" stroke="#2a4480" stroke-width="0.75" />
<line x1="87.00" y1="258.60" x2="89.30" y2="258.60" stroke="#2a4480" stroke-width="0.75" />
<line x1="91.90" y1="248.00" x2="91.90" y2="258.00" stroke="#6a82b4" stroke-width="0.7" />
<line x1="90.75" y1="248.00" x2="93.05" y2="248.00" stroke="#2a4480" stroke-width="0.75" />
<line x1="90.75" y1="258.00" x2="93.05" y2="258.00" stroke="#2a4480" stroke-width="0.75" />
<line x1="95.65" y1="249.00" x2="95.65" y2="259.00" stroke="#6a82b4" stroke-width="0.7" />
<line x1="94.50" y1="249.00" x2="96.80" y2="249.00" stroke="#2a4480" stroke-width="0.75" />
<line x1="94.50" y1="259.00" x2="96.80" y2="259.00" stroke="#2a4480" stroke-width="0.75" />
<line x1="99.40" y1="249.80" x2="99.40" y2="259.40" stroke="#6a82b4" stroke-width="0.7" />
<line x1="98.25" y1="249.80" x2="100.55" y2="249.80" stroke="#2a4480" stroke-width="0.75" />
<line x1="98.25" y1="259.40" x2="100.55" y2="259.40" stroke="#2a4480" stroke-width="0.75" />
<line x1="103.15" y1="250.80" x2="103.15" y2="260.40" stroke="#6a82b4" stroke-width="0.7" />
<line x1="102.00" y1="250.80" x2="104.30" y2="250.80" stroke="#2a4480" stroke-width="0.75" />
<line x1="102.00" y1="260.40" x2="104.30" y2="260.40" stroke="#2a4480" stroke-width="0.75" />
<line x1="106.90" y1="251.20" x2="106.90" y2="260.80" stroke="#6a82b4" stroke-width="0.7" />
<line x1="105.75" y1="251.20" x2="108.05" y2="251.20" stroke="#2a4480" stroke-width="0.75" />
<line x1="105.75" y1="260.80" x2="108.05" y2="260.80" stroke="#2a4480" stroke-width="0.75" />
<line x1="110.65" y1="251.80" x2="110.65" y2="261.00" stroke="#6a82b4" stroke-width="0.7" />
<line x1="109.50" y1="251.80" x2="111.80" y2="251.80" stroke="#2a4480" stroke-width="0.75" />
<line x1="109.50" y1="261.00" x2="111.80" y2="261.00" stroke="#2a4480" stroke-width="0.75" />
<line x1="114.40" y1="251.40" x2="114.40" y2="260.60" stroke="#6a82b4" stroke-width="0.7" />
<line x1="113.25" y1="251.40" x2="115.55" y2="251.40" stroke="#2a4480" stroke-width="0.75" />
<line x1="113.25" y1="260.60" x2="115.55" y2="260.60" stroke="#2a4480" stroke-width="0.75" />
<line x1="118.15" y1="251.00" x2="118.15" y2="260.20" stroke="#6a82b4" stroke-width="0.7" />
<line x1="117.00" y1="251.00" x2="119.30" y2="251.00" stroke="#2a4480" stroke-width="0.75" />
<line x1="117.00" y1="260.20" x2="119.30" y2="260.20" stroke="#2a4480" stroke-width="0.75" />
<line x1="121.90" y1="252.40" x2="121.90" y2="262.00" stroke="#6a82b4" stroke-width="0.7" />
<line x1="120.75" y1="252.40" x2="123.05" y2="252.40" stroke="#2a4480" stroke-width="0.75" />
<line x1="120.75" y1="262.00" x2="123.05" y2="262.00" stroke="#2a4480" stroke-width="0.75" />
<polyline points="39.40,267.40 43.15,267.40 46.90,267.40 50.65,267.30 54.40,266.50 58.15,264.20 61.90,261.00 65.65,257.20 69.40,254.20 73.15,252.60 76.90,252.40 80.65,252.80 84.40,252.60 88.15,253.60 91.90,253.00 95.65,254.00 99.40,254.60 103.15,255.60 106.90,256.00 110.65,256.40 114.40,256.00 118.15,255.60 121.90,257.20" fill="none" stroke="#1c3268" stroke-width="0.85"/>
<path d="M39.40,266.25 l1.1,1.15 l-1.1,1.15 l-1.1,-1.15 z" fill="#1c3268"/>
<path d="M43.15,266.25 l1.1,1.15 l-1.1,1.15 l-1.1,-1.15 z" fill="#1c3268"/>
<path d="M46.90,266.25 l1.1,1.15 l-1.1,1.15 l-1.1,-1.15 z" fill="#1c3268"/>
<path d="M50.65,266.15 l1.1,1.15 l-1.1,1.15 l-1.1,-1.15 z" fill="#1c3268"/>
<path d="M54.40,265.35 l1.1,1.15 l-1.1,1.15 l-1.1,-1.15 z" fill="#1c3268"/>
<path d="M58.15,263.05 l1.1,1.15 l-1.1,1.15 l-1.1,-1.15 z" fill="#1c3268"/>
<path d="M61.90,259.85 l1.1,1.15 l-1.1,1.15 l-1.1,-1.15 z" fill="#1c3268"/>
<path d="M65.65,256.05 l1.1,1.15 l-1.1,1.15 l-1.1,-1.15 z" fill="#1c3268"/>
<path d="M69.40,253.05 l1.1,1.15 l-1.1,1.15 l-1.1,-1.15 z" fill="#1c3268"/>
<path d="M73.15,251.45 l1.1,1.15 l-1.1,1.15 l-1.1,-1.15 z" fill="#1c3268"/>
<path d="M76.90,251.25 l1.1,1.15 l-1.1,1.15 l-1.1,-1.15 z" fill="#1c3268"/>
<path d="M80.65,251.65 l1.1,1.15 l-1.1,1.15 l-1.1,-1.15 z" fill="#1c3268"/>
<path d="M84.40,251.45 l1.1,1.15 l-1.1,1.15 l-1.1,-1.15 z" fill="#1c3268"/>
<path d="M88.15,252.45 l1.1,1.15 l-1.1,1.15 l-1.1,-1.15 z" fill="#1c3268"/>
<path d="M91.90,251.85 l1.1,1.15 l-1.1,1.15 l-1.1,-1.15 z" fill="#1c3268"/>
<path d="M95.65,252.85 l1.1,1.15 l-1.1,1.15 l-1.1,-1.15 z" fill="#1c3268"/>
<path d="M99.40,253.45 l1.1,1.15 l-1.1,1.15 l-1.1,-1.15 z" fill="#1c3268"/>
<path d="M103.15,254.45 l1.1,1.15 l-1.1,1.15 l-1.1,-1.15 z" fill="#1c3268"/>
<path d="M106.90,254.85 l1.1,1.15 l-1.1,1.15 l-1.1,-1.15 z" fill="#1c3268"/>
<path d="M110.65,255.25 l1.1,1.15 l-1.1,1.15 l-1.1,-1.15 z" fill="#1c3268"/>
<path d="M114.40,254.85 l1.1,1.15 l-1.1,1.15 l-1.1,-1.15 z" fill="#1c3268"/>
<path d="M118.15,254.45 l1.1,1.15 l-1.1,1.15 l-1.1,-1.15 z" fill="#1c3268"/>
<path d="M121.90,256.05 l1.1,1.15 l-1.1,1.15 l-1.1,-1.15 z" fill="#1c3268"/>
<line x1="39.40" y1="262.50" x2="39.40" y2="264.50" stroke="#d06a80" stroke-width="0.7" />
<line x1="38.25" y1="262.50" x2="40.55" y2="262.50" stroke="#b83050" stroke-width="0.75" />
<line x1="38.25" y1="264.50" x2="40.55" y2="264.50" stroke="#b83050" stroke-width="0.75" />
<line x1="43.15" y1="261.50" x2="43.15" y2="263.50" stroke="#d06a80" stroke-width="0.7" />
<line x1="42.00" y1="261.50" x2="44.30" y2="261.50" stroke="#b83050" stroke-width="0.75" />
<line x1="42.00" y1="263.50" x2="44.30" y2="263.50" stroke="#b83050" stroke-width="0.75" />
<line x1="46.90" y1="257.80" x2="46.90" y2="260.20" stroke="#d06a80" stroke-width="0.7" />
<line x1="45.75" y1="257.80" x2="48.05" y2="257.80" stroke="#b83050" stroke-width="0.75" />
<line x1="45.75" y1="260.20" x2="48.05" y2="260.20" stroke="#b83050" stroke-width="0.75" />
<line x1="50.65" y1="251.20" x2="50.65" y2="254.80" stroke="#d06a80" stroke-width="0.7" />
<line x1="49.50" y1="251.20" x2="51.80" y2="251.20" stroke="#b83050" stroke-width="0.75" />
<line x1="49.50" y1="254.80" x2="51.80" y2="254.80" stroke="#b83050" stroke-width="0.75" />
<line x1="54.40" y1="241.70" x2="54.40" y2="248.30" stroke="#d06a80" stroke-width="0.7" />
<line x1="53.25" y1="241.70" x2="55.55" y2="241.70" stroke="#b83050" stroke-width="0.75" />
<line x1="53.25" y1="248.30" x2="55.55" y2="248.30" stroke="#b83050" stroke-width="0.75" />
<line x1="58.15" y1="231.30" x2="58.15" y2="242.50" stroke="#d06a80" stroke-width="0.7" />
<line x1="57.00" y1="231.30" x2="59.30" y2="231.30" stroke="#b83050" stroke-width="0.75" />
<line x1="57.00" y1="242.50" x2="59.30" y2="242.50" stroke="#b83050" stroke-width="0.75" />
<line x1="61.90" y1="223.75" x2="61.90" y2="238.75" stroke="#d06a80" stroke-width="0.7" />
<line x1="60.75" y1="223.75" x2="63.05" y2="223.75" stroke="#b83050" stroke-width="0.75" />
<line x1="60.75" y1="238.75" x2="63.05" y2="238.75" stroke="#b83050" stroke-width="0.75" />
<line x1="65.65" y1="219.00" x2="65.65" y2="237.00" stroke="#d06a80" stroke-width="0.7" />
<line x1="64.50" y1="219.00" x2="66.80" y2="219.00" stroke="#b83050" stroke-width="0.75" />
<line x1="64.50" y1="237.00" x2="66.80" y2="237.00" stroke="#b83050" stroke-width="0.75" />
<line x1="69.40" y1="217.50" x2="69.40" y2="237.50" stroke="#d06a80" stroke-width="0.7" />
<line x1="68.25" y1="217.50" x2="70.55" y2="217.50" stroke="#b83050" stroke-width="0.75" />
<line x1="68.25" y1="237.50" x2="70.55" y2="237.50" stroke="#b83050" stroke-width="0.75" />
<line x1="73.15" y1="218.10" x2="73.15" y2="238.10" stroke="#d06a80" stroke-width="0.7" />
<line x1="72.00" y1="218.10" x2="74.30" y2="218.10" stroke="#b83050" stroke-width="0.75" />
<line x1="72.00" y1="238.10" x2="74.30" y2="238.10" stroke="#b83050" stroke-width="0.75" />
<line x1="76.90" y1="219.20" x2="76.90" y2="237.80" stroke="#d06a80" stroke-width="0.7" />
<line x1="75.75" y1="219.20" x2="78.05" y2="219.20" stroke="#b83050" stroke-width="0.75" />
<line x1="75.75" y1="237.80" x2="78.05" y2="237.80" stroke="#b83050" stroke-width="0.75" />
<line x1="80.65" y1="219.00" x2="80.65" y2="238.00" stroke="#d06a80" stroke-width="0.7" />
<line x1="79.50" y1="219.00" x2="81.80" y2="219.00" stroke="#b83050" stroke-width="0.75" />
<line x1="79.50" y1="238.00" x2="81.80" y2="238.00" stroke="#b83050" stroke-width="0.75" />
<line x1="84.40" y1="221.75" x2="84.40" y2="240.75" stroke="#d06a80" stroke-width="0.7" />
<line x1="83.25" y1="221.75" x2="85.55" y2="221.75" stroke="#b83050" stroke-width="0.75" />
<line x1="83.25" y1="240.75" x2="85.55" y2="240.75" stroke="#b83050" stroke-width="0.75" />
<line x1="88.15" y1="222.80" x2="88.15" y2="241.40" stroke="#d06a80" stroke-width="0.7" />
<line x1="87.00" y1="222.80" x2="89.30" y2="222.80" stroke="#b83050" stroke-width="0.75" />
<line x1="87.00" y1="241.40" x2="89.30" y2="241.40" stroke="#b83050" stroke-width="0.75" />
<line x1="91.90" y1="225.65" x2="91.90" y2="243.85" stroke="#d06a80" stroke-width="0.7" />
<line x1="90.75" y1="225.65" x2="93.05" y2="225.65" stroke="#b83050" stroke-width="0.75" />
<line x1="90.75" y1="243.85" x2="93.05" y2="243.85" stroke="#b83050" stroke-width="0.75" />
<line x1="95.65" y1="226.40" x2="95.65" y2="244.80" stroke="#d06a80" stroke-width="0.7" />
<line x1="94.50" y1="226.40" x2="96.80" y2="226.40" stroke="#b83050" stroke-width="0.75" />
<line x1="94.50" y1="244.80" x2="96.80" y2="244.80" stroke="#b83050" stroke-width="0.75" />
<line x1="99.40" y1="228.50" x2="99.40" y2="245.70" stroke="#d06a80" stroke-width="0.7" />
<line x1="98.25" y1="228.50" x2="100.55" y2="228.50" stroke="#b83050" stroke-width="0.75" />
<line x1="98.25" y1="245.70" x2="100.55" y2="245.70" stroke="#b83050" stroke-width="0.75" />
<line x1="103.15" y1="230.55" x2="103.15" y2="246.95" stroke="#d06a80" stroke-width="0.7" />
<line x1="102.00" y1="230.55" x2="104.30" y2="230.55" stroke="#b83050" stroke-width="0.75" />
<line x1="102.00" y1="246.95" x2="104.30" y2="246.95" stroke="#b83050" stroke-width="0.75" />
<line x1="106.90" y1="232.50" x2="106.90" y2="248.70" stroke="#d06a80" stroke-width="0.7" />
<line x1="105.75" y1="232.50" x2="108.05" y2="232.50" stroke="#b83050" stroke-width="0.75" />
<line x1="105.75" y1="248.70" x2="108.05" y2="248.70" stroke="#b83050" stroke-width="0.75" />
<line x1="110.65" y1="233.70" x2="110.65" y2="250.10" stroke="#d06a80" stroke-width="0.7" />
<line x1="109.50" y1="233.70" x2="111.80" y2="233.70" stroke="#b83050" stroke-width="0.75" />
<line x1="109.50" y1="250.10" x2="111.80" y2="250.10" stroke="#b83050" stroke-width="0.75" />
<line x1="114.40" y1="234.40" x2="114.40" y2="250.60" stroke="#d06a80" stroke-width="0.7" />
<line x1="113.25" y1="234.40" x2="115.55" y2="234.40" stroke="#b83050" stroke-width="0.75" />
<line x1="113.25" y1="250.60" x2="115.55" y2="250.60" stroke="#b83050" stroke-width="0.75" />
<line x1="118.15" y1="236.50" x2="118.15" y2="251.50" stroke="#d06a80" stroke-width="0.7" />
<line x1="117.00" y1="236.50" x2="119.30" y2="236.50" stroke="#b83050" stroke-width="0.75" />
<line x1="117.00" y1="251.50" x2="119.30" y2="251.50" stroke="#b83050" stroke-width="0.75" />
<line x1="121.90" y1="238.70" x2="121.90" y2="253.10" stroke="#d06a80" stroke-width="0.7" />
<line x1="120.75" y1="238.70" x2="123.05" y2="238.70" stroke="#b83050" stroke-width="0.75" />
<line x1="120.75" y1="253.10" x2="123.05" y2="253.10" stroke="#b83050" stroke-width="0.75" />
<polyline points="39.40,263.50 43.15,262.50 46.90,259.00 50.65,253.00 54.40,245.00 58.15,236.90 61.90,231.25 65.65,228.00 69.40,227.50 73.15,228.10 76.90,228.50 80.65,228.50 84.40,231.25 88.15,232.10 91.90,234.75 95.65,235.60 99.40,237.10 103.15,238.75 106.90,240.60 110.65,241.90 114.40,242.50 118.15,244.00 121.90,245.90" fill="none" stroke="#b01035" stroke-width="0.7"/>
<circle cx="39.40" cy="263.50" r="1.05" fill="#a30028"/>
<circle cx="43.15" cy="262.50" r="1.05" fill="#a30028"/>
<circle cx="46.90" cy="259.00" r="1.05" fill="#a30028"/>
<circle cx="50.65" cy="253.00" r="1.05" fill="#a30028"/>
<circle cx="54.40" cy="245.00" r="1.05" fill="#a30028"/>
<circle cx="58.15" cy="236.90" r="1.05" fill="#a30028"/>
<circle cx="61.90" cy="231.25" r="1.05" fill="#a30028"/>
<circle cx="65.65" cy="228.00" r="1.05" fill="#a30028"/>
<circle cx="69.40" cy="227.50" r="1.05" fill="#a30028"/>
<circle cx="73.15" cy="228.10" r="1.05" fill="#a30028"/>
<circle cx="76.90" cy="228.50" r="1.05" fill="#a30028"/>
<circle cx="80.65" cy="228.50" r="1.05" fill="#a30028"/>
<circle cx="84.40" cy="231.25" r="1.05" fill="#a30028"/>
<circle cx="88.15" cy="232.10" r="1.05" fill="#a30028"/>
<circle cx="91.90" cy="234.75" r="1.05" fill="#a30028"/>
<circle cx="95.65" cy="235.60" r="1.05" fill="#a30028"/>
<circle cx="99.40" cy="237.10" r="1.05" fill="#a30028"/>
<circle cx="103.15" cy="238.75" r="1.05" fill="#a30028"/>
<circle cx="106.90" cy="240.60" r="1.05" fill="#a30028"/>
<circle cx="110.65" cy="241.90" r="1.05" fill="#a30028"/>
<circle cx="114.40" cy="242.50" r="1.05" fill="#a30028"/>
<circle cx="118.15" cy="244.00" r="1.05" fill="#a30028"/>
<circle cx="121.90" cy="245.90" r="1.05" fill="#a30028"/>
</g>
<line x1="39.50" y1="209.40" x2="39.50" y2="268.00" stroke="#111" stroke-width="1.0" />
<line x1="36.30" y1="211.80" x2="39.50" y2="211.80" stroke="#111" stroke-width="0.9" />
<text font-size="6.5" text-anchor="end" fill="#1a1a1a" x="33.70" y="214.14" >2.5</text>
<line x1="36.30" y1="222.95" x2="39.50" y2="222.95" stroke="#111" stroke-width="0.9" />
<text font-size="6.5" text-anchor="end" fill="#1a1a1a" x="33.70" y="225.29" >2.0</text>
<line x1="36.30" y1="234.10" x2="39.50" y2="234.10" stroke="#111" stroke-width="0.9" />
<text font-size="6.5" text-anchor="end" fill="#1a1a1a" x="33.70" y="236.44" >1.5</text>
<line x1="36.30" y1="245.20" x2="39.50" y2="245.20" stroke="#111" stroke-width="0.9" />
<text font-size="6.5" text-anchor="end" fill="#1a1a1a" x="33.70" y="247.54" >1.0</text>
<line x1="36.30" y1="256.35" x2="39.50" y2="256.35" stroke="#111" stroke-width="0.9" />
<text font-size="6.5" text-anchor="end" fill="#1a1a1a" x="33.70" y="258.69" >0.5</text>
<line x1="36.30" y1="267.50" x2="39.50" y2="267.50" stroke="#111" stroke-width="0.9" />
<text font-size="6.5" text-anchor="end" fill="#1a1a1a" x="33.70" y="269.84" >0.0</text>
<line x1="36.30" y1="267.50" x2="123.60" y2="267.50" stroke="#111" stroke-width="1.0" />
<line x1="39.40" y1="267.50" x2="39.40" y2="270.80" stroke="#111" stroke-width="1.0" />
<line x1="58.15" y1="267.50" x2="58.15" y2="270.80" stroke="#111" stroke-width="1.0" />
<line x1="76.90" y1="267.50" x2="76.90" y2="270.80" stroke="#111" stroke-width="1.0" />
<line x1="95.65" y1="267.50" x2="95.65" y2="270.80" stroke="#111" stroke-width="1.0" />
<line x1="114.40" y1="267.50" x2="114.40" y2="270.80" stroke="#111" stroke-width="1.0" />
<text font-size="6.5" text-anchor="middle" fill="#1a1a1a" x="39.40" y="279.10" >0</text>
<text font-size="6.5" text-anchor="middle" fill="#1a1a1a" x="58.15" y="279.10" >20</text>
<text font-size="6.5" text-anchor="middle" fill="#1a1a1a" x="76.90" y="279.10" >40</text>
<text font-size="6.5" text-anchor="middle" fill="#1a1a1a" x="95.65" y="279.10" >60</text>
<text font-size="6.5" text-anchor="middle" fill="#1a1a1a" x="114.40" y="279.10" >80</text>
<text font-size="8.2" text-anchor="middle" fill="#1a1a1a" textLength="32.70" lengthAdjust="spacingAndGlyphs" x="81.35" y="290.60" >Time [min]</text>
<text transform="translate(138.20,172.60) scale(1.05,1)" font-size="11.0" font-weight="bold" fill="#000" stroke="#000" stroke-width="0.35" stroke-linejoin="round">E</text>
<text font-size="8.0" text-anchor="middle" fill="#1a1a1a" textLength="10.60" lengthAdjust="spacingAndGlyphs" transform="translate(144.00,232.30) rotate(-90)" >FMI</text>
<line x1="175.93" y1="206.25" x2="175.93" y2="207.40" stroke="#222" stroke-width="0.9" />
<line x1="171.93" y1="206.25" x2="179.93" y2="206.25" stroke="#222" stroke-width="0.9" />
<rect x="168.10" y="207.10" width="15.65" height="60.40" fill="#a30028"/>
<line x1="199.07" y1="225.60" x2="199.07" y2="229.30" stroke="#222" stroke-width="0.9" />
<line x1="195.07" y1="225.60" x2="203.07" y2="225.60" stroke="#222" stroke-width="0.9" />
<rect x="191.25" y="229.00" width="15.65" height="38.50" fill="#a30028"/>
<line x1="221.25" y1="218.50" x2="221.25" y2="220.55" stroke="#222" stroke-width="0.9" />
<line x1="217.25" y1="218.50" x2="225.25" y2="218.50" stroke="#222" stroke-width="0.9" />
<rect x="213.50" y="220.25" width="15.50" height="47.25" fill="#2d4a7c"/>
<line x1="243.75" y1="222.50" x2="243.75" y2="224.05" stroke="#222" stroke-width="0.9" />
<line x1="239.75" y1="222.50" x2="247.75" y2="222.50" stroke="#222" stroke-width="0.9" />
<rect x="236.00" y="223.75" width="15.50" height="43.75" fill="#2d4a7c"/>
<line x1="164.00" y1="199.00" x2="164.00" y2="268.00" stroke="#111" stroke-width="1.0" />
<line x1="160.80" y1="201.40" x2="164.00" y2="201.40" stroke="#111" stroke-width="0.9" />
<text font-size="6.5" text-anchor="end" fill="#1a1a1a" x="158.20" y="203.74" >0.8</text>
<line x1="160.80" y1="217.95" x2="164.00" y2="217.95" stroke="#111" stroke-width="0.9" />
<text font-size="6.5" text-anchor="end" fill="#1a1a1a" x="158.20" y="220.29" >0.6</text>
<line x1="160.80" y1="234.45" x2="164.00" y2="234.45" stroke="#111" stroke-width="0.9" />
<text font-size="6.5" text-anchor="end" fill="#1a1a1a" x="158.20" y="236.79" >0.4</text>
<line x1="160.80" y1="251.00" x2="164.00" y2="251.00" stroke="#111" stroke-width="0.9" />
<text font-size="6.5" text-anchor="end" fill="#1a1a1a" x="158.20" y="253.34" >0.2</text>
<line x1="160.80" y1="267.50" x2="164.00" y2="267.50" stroke="#111" stroke-width="0.9" />
<text font-size="6.5" text-anchor="end" fill="#1a1a1a" x="158.20" y="269.84" >0.0</text>
<line x1="160.80" y1="267.50" x2="255.60" y2="267.50" stroke="#111" stroke-width="1.0" />
<line x1="175.90" y1="267.50" x2="175.90" y2="270.80" stroke="#111" stroke-width="1.0" />
<line x1="199.10" y1="267.50" x2="199.10" y2="270.80" stroke="#111" stroke-width="1.0" />
<line x1="221.25" y1="267.50" x2="221.25" y2="270.80" stroke="#111" stroke-width="1.0" />
<line x1="243.75" y1="267.50" x2="243.75" y2="270.80" stroke="#111" stroke-width="1.0" />
<line x1="176.25" y1="183.50" x2="243.75" y2="183.50" stroke="#3a3a3a" stroke-width="1.0" />
<rect x="207.45" y="179.60" width="1.6" height="1.4" rx="0.3" fill="#3a3a3a"/>
<rect x="210.45" y="179.60" width="1.6" height="1.4" rx="0.3" fill="#3a3a3a"/>
<line x1="176.25" y1="192.50" x2="221.25" y2="192.50" stroke="#3a3a3a" stroke-width="1.0" />
<rect x="196.45" y="189.00" width="1.6" height="1.4" rx="0.3" fill="#3a3a3a"/>
<rect x="199.45" y="189.00" width="1.6" height="1.4" rx="0.3" fill="#3a3a3a"/>
<line x1="176.25" y1="201.50" x2="199.00" y2="201.50" stroke="#3a3a3a" stroke-width="1.0" />
<rect x="183.70" y="197.70" width="1.6" height="1.4" rx="0.3" fill="#3a3a3a"/>
<rect x="186.70" y="197.70" width="1.6" height="1.4" rx="0.3" fill="#3a3a3a"/>
<rect x="189.70" y="197.70" width="1.6" height="1.4" rx="0.3" fill="#3a3a3a"/>
<text font-size="6.3" text-anchor="end" fill="#1a1a1a" transform="translate(179.10,277.30) rotate(-45)" >WT</text>
<text font-size="6.3" text-anchor="end" fill="#1a1a1a" transform="translate(202.30,277.30) rotate(-45)" >WT R18</text>
<text font-size="6.3" text-anchor="end" fill="#1a1a1a" transform="translate(224.45,277.30) rotate(-45)" >Sell-/-</text>
<text font-size="6.3" text-anchor="end" fill="#1a1a1a" transform="translate(246.95,277.30) rotate(-45)" >Sell-/- R18</text>
<text transform="translate(266.60,172.60) scale(1.05,1)" font-size="11.0" font-weight="bold" fill="#000" stroke="#000" stroke-width="0.35" stroke-linejoin="round">F</text>
<text font-size="8.0" text-anchor="middle" fill="#1a1a1a" textLength="54.80" lengthAdjust="spacingAndGlyphs" transform="translate(276.40,230.80) rotate(-90)" >Velocity [µm/min]</text>
<line x1="307.50" y1="203.40" x2="307.50" y2="205.90" stroke="#222" stroke-width="0.9" />
<line x1="303.50" y1="203.40" x2="311.50" y2="203.40" stroke="#222" stroke-width="0.9" />
<rect x="299.75" y="205.60" width="15.50" height="60.40" fill="#a30028"/>
<line x1="329.90" y1="217.50" x2="329.90" y2="219.70" stroke="#222" stroke-width="0.9" />
<line x1="325.90" y1="217.50" x2="333.90" y2="217.50" stroke="#222" stroke-width="0.9" />
<rect x="321.90" y="219.40" width="16.00" height="46.60" fill="#a30028"/>
<line x1="352.20" y1="214.60" x2="352.20" y2="217.20" stroke="#222" stroke-width="0.9" />
<line x1="348.20" y1="214.60" x2="356.20" y2="214.60" stroke="#222" stroke-width="0.9" />
<rect x="344.40" y="216.90" width="15.60" height="49.10" fill="#2d4a7c"/>
<line x1="374.57" y1="220.00" x2="374.57" y2="221.30" stroke="#222" stroke-width="0.9" />
<line x1="370.57" y1="220.00" x2="378.57" y2="220.00" stroke="#222" stroke-width="0.9" />
<rect x="366.90" y="221.00" width="15.35" height="45.00" fill="#2d4a7c"/>
<line x1="295.50" y1="196.50" x2="295.50" y2="266.50" stroke="#111" stroke-width="1.0" />
<line x1="292.30" y1="199.10" x2="295.50" y2="199.10" stroke="#111" stroke-width="0.9" />
<text font-size="6.5" text-anchor="end" fill="#1a1a1a" x="289.70" y="201.44" >15</text>
<line x1="292.30" y1="221.40" x2="295.50" y2="221.40" stroke="#111" stroke-width="0.9" />
<text font-size="6.5" text-anchor="end" fill="#1a1a1a" x="289.70" y="223.74" >10</text>
<line x1="292.30" y1="243.70" x2="295.50" y2="243.70" stroke="#111" stroke-width="0.9" />
<text font-size="6.5" text-anchor="end" fill="#1a1a1a" x="289.70" y="246.04" >5</text>
<line x1="292.30" y1="266.00" x2="295.50" y2="266.00" stroke="#111" stroke-width="0.9" />
<text font-size="6.5" text-anchor="end" fill="#1a1a1a" x="289.70" y="268.34" >0</text>
<line x1="292.30" y1="266.00" x2="385.75" y2="266.00" stroke="#111" stroke-width="1.0" />
<line x1="307.50" y1="266.00" x2="307.50" y2="269.30" stroke="#111" stroke-width="1.0" />
<line x1="329.90" y1="266.00" x2="329.90" y2="269.30" stroke="#111" stroke-width="1.0" />
<line x1="352.20" y1="266.00" x2="352.20" y2="269.30" stroke="#111" stroke-width="1.0" />
<line x1="374.60" y1="266.00" x2="374.60" y2="269.30" stroke="#111" stroke-width="1.0" />
<line x1="307.50" y1="182.50" x2="374.40" y2="182.50" stroke="#3a3a3a" stroke-width="1.0" />
<rect x="337.20" y="178.30" width="1.6" height="1.4" rx="0.3" fill="#3a3a3a"/>
<rect x="340.20" y="178.30" width="1.6" height="1.4" rx="0.3" fill="#3a3a3a"/>
<rect x="343.20" y="178.30" width="1.6" height="1.4" rx="0.3" fill="#3a3a3a"/>
<line x1="307.50" y1="191.50" x2="352.10" y2="191.50" stroke="#3a3a3a" stroke-width="1.0" />
<rect x="327.45" y="187.40" width="1.6" height="1.4" rx="0.3" fill="#3a3a3a"/>
<rect x="330.45" y="187.40" width="1.6" height="1.4" rx="0.3" fill="#3a3a3a"/>
<line x1="307.50" y1="200.50" x2="329.75" y2="200.50" stroke="#3a3a3a" stroke-width="1.0" />
<rect x="316.20" y="196.50" width="1.6" height="1.4" rx="0.3" fill="#3a3a3a"/>
<rect x="319.20" y="196.50" width="1.6" height="1.4" rx="0.3" fill="#3a3a3a"/>
<text font-size="6.3" text-anchor="end" fill="#1a1a1a" transform="translate(310.70,275.80) rotate(-45)" >WT</text>
<text font-size="6.3" text-anchor="end" fill="#1a1a1a" transform="translate(333.10,275.80) rotate(-45)" >WT R18</text>
<text font-size="6.3" text-anchor="end" fill="#1a1a1a" transform="translate(355.40,275.80) rotate(-45)" >Sell-/-</text>
<text font-size="6.3" text-anchor="end" fill="#1a1a1a" transform="translate(377.80,275.80) rotate(-45)" >Sell-/- R18</text>
<text transform="translate(394.40,172.60) scale(1.05,1)" font-size="11.0" font-weight="bold" fill="#000" stroke="#000" stroke-width="0.35" stroke-linejoin="round">G</text>
<text font-size="8.0" text-anchor="middle" fill="#1a1a1a" textLength="81.80" lengthAdjust="spacingAndGlyphs" transform="translate(400.00,230.80) rotate(-90)" >Accumulated distance [µm]</text>
<line x1="434.20" y1="209.75" x2="434.20" y2="212.20" stroke="#222" stroke-width="0.9" />
<line x1="430.20" y1="209.75" x2="438.20" y2="209.75" stroke="#222" stroke-width="0.9" />
<rect x="426.50" y="211.90" width="15.40" height="54.35" fill="#a30028"/>
<line x1="456.88" y1="222.50" x2="456.88" y2="224.70" stroke="#222" stroke-width="0.9" />
<line x1="452.88" y1="222.50" x2="460.88" y2="222.50" stroke="#222" stroke-width="0.9" />
<rect x="449.00" y="224.40" width="15.75" height="41.85" fill="#a30028"/>
<line x1="478.95" y1="220.00" x2="478.95" y2="222.55" stroke="#222" stroke-width="0.9" />
<line x1="474.95" y1="220.00" x2="482.95" y2="220.00" stroke="#222" stroke-width="0.9" />
<rect x="471.00" y="222.25" width="15.90" height="44.00" fill="#2d4a7c"/>
<line x1="501.20" y1="225.00" x2="501.20" y2="226.30" stroke="#222" stroke-width="0.9" />
<line x1="497.20" y1="225.00" x2="505.20" y2="225.00" stroke="#222" stroke-width="0.9" />
<rect x="493.40" y="226.00" width="15.60" height="40.25" fill="#2d4a7c"/>
<line x1="422.50" y1="196.25" x2="422.50" y2="266.75" stroke="#111" stroke-width="1.0" />
<line x1="419.30" y1="198.75" x2="422.50" y2="198.75" stroke="#111" stroke-width="0.9" />
<text font-size="6.5" text-anchor="end" fill="#1a1a1a" x="416.70" y="201.09" >500</text>
<line x1="419.30" y1="212.25" x2="422.50" y2="212.25" stroke="#111" stroke-width="0.9" />
<text font-size="6.5" text-anchor="end" fill="#1a1a1a" x="416.70" y="214.59" >400</text>
<line x1="419.30" y1="225.75" x2="422.50" y2="225.75" stroke="#111" stroke-width="0.9" />
<text font-size="6.5" text-anchor="end" fill="#1a1a1a" x="416.70" y="228.09" >300</text>
<line x1="419.30" y1="239.25" x2="422.50" y2="239.25" stroke="#111" stroke-width="0.9" />
<text font-size="6.5" text-anchor="end" fill="#1a1a1a" x="416.70" y="241.59" >200</text>
<line x1="419.30" y1="252.75" x2="422.50" y2="252.75" stroke="#111" stroke-width="0.9" />
<text font-size="6.5" text-anchor="end" fill="#1a1a1a" x="416.70" y="255.09" >100</text>
<line x1="419.30" y1="266.25" x2="422.50" y2="266.25" stroke="#111" stroke-width="0.9" />
<text font-size="6.5" text-anchor="end" fill="#1a1a1a" x="416.70" y="268.59" >0</text>
<line x1="419.30" y1="266.25" x2="512.50" y2="266.25" stroke="#111" stroke-width="1.0" />
<line x1="434.20" y1="266.25" x2="434.20" y2="269.55" stroke="#111" stroke-width="1.0" />
<line x1="456.90" y1="266.25" x2="456.90" y2="269.55" stroke="#111" stroke-width="1.0" />
<line x1="478.95" y1="266.25" x2="478.95" y2="269.55" stroke="#111" stroke-width="1.0" />
<line x1="501.20" y1="266.25" x2="501.20" y2="269.55" stroke="#111" stroke-width="1.0" />
<line x1="434.40" y1="182.50" x2="501.25" y2="182.50" stroke="#3a3a3a" stroke-width="1.0" />
<rect x="463.95" y="178.40" width="1.6" height="1.4" rx="0.3" fill="#3a3a3a"/>
<rect x="466.95" y="178.40" width="1.6" height="1.4" rx="0.3" fill="#3a3a3a"/>
<rect x="469.95" y="178.40" width="1.6" height="1.4" rx="0.3" fill="#3a3a3a"/>
<line x1="434.40" y1="191.50" x2="479.00" y2="191.50" stroke="#3a3a3a" stroke-width="1.0" />
<rect x="455.70" y="187.50" width="1.6" height="1.4" rx="0.3" fill="#3a3a3a"/>
<line x1="434.40" y1="200.50" x2="456.50" y2="200.50" stroke="#3a3a3a" stroke-width="1.0" />
<rect x="443.20" y="196.60" width="1.6" height="1.4" rx="0.3" fill="#3a3a3a"/>
<rect x="446.20" y="196.60" width="1.6" height="1.4" rx="0.3" fill="#3a3a3a"/>
<text font-size="6.3" text-anchor="end" fill="#1a1a1a" transform="translate(437.40,276.05) rotate(-45)" >WT</text>
<text font-size="6.3" text-anchor="end" fill="#1a1a1a" transform="translate(460.10,276.05) rotate(-45)" >WT R18</text>
<text font-size="6.3" text-anchor="end" fill="#1a1a1a" transform="translate(482.15,276.05) rotate(-45)" >Sell-/-</text>
<text font-size="6.3" text-anchor="end" fill="#1a1a1a" transform="translate(504.40,276.05) rotate(-45)" >Sell-/- R18</text>
<text transform="translate(7.50,323.20) scale(1.05,1)" font-size="11.0" font-weight="bold" fill="#000" stroke="#000" stroke-width="0.35" stroke-linejoin="round">H</text>
<text font-size="8.0" text-anchor="middle" fill="#1a1a1a" textLength="68.60" lengthAdjust="spacingAndGlyphs" transform="translate(17.35,382.90) rotate(-90)" >Euclidian distance[µm]</text>
<line x1="51.05" y1="361.50" x2="51.05" y2="364.30" stroke="#222" stroke-width="0.9" />
<line x1="47.05" y1="361.50" x2="55.05" y2="361.50" stroke="#222" stroke-width="0.9" />
<rect x="43.10" y="364.00" width="15.90" height="53.75" fill="#a30028"/>
<line x1="73.38" y1="384.10" x2="73.38" y2="387.55" stroke="#222" stroke-width="0.9" />
<line x1="69.38" y1="384.10" x2="77.38" y2="384.10" stroke="#222" stroke-width="0.9" />
<rect x="65.25" y="387.25" width="16.25" height="30.50" fill="#a30028"/>
<line x1="95.83" y1="378.50" x2="95.83" y2="381.30" stroke="#222" stroke-width="0.9" />
<line x1="91.83" y1="378.50" x2="99.83" y2="378.50" stroke="#222" stroke-width="0.9" />
<rect x="87.90" y="381.00" width="15.85" height="36.75" fill="#2d4a7c"/>
<line x1="118.12" y1="384.60" x2="118.12" y2="386.20" stroke="#222" stroke-width="0.9" />
<line x1="114.12" y1="384.60" x2="122.12" y2="384.60" stroke="#222" stroke-width="0.9" />
<rect x="110.25" y="385.90" width="15.75" height="31.85" fill="#2d4a7c"/>
<line x1="39.50" y1="344.75" x2="39.50" y2="418.25" stroke="#111" stroke-width="1.0" />
<line x1="36.30" y1="347.25" x2="39.50" y2="347.25" stroke="#111" stroke-width="0.9" />
<text font-size="6.5" text-anchor="end" fill="#1a1a1a" x="33.70" y="349.59" >400</text>
<line x1="36.30" y1="364.90" x2="39.50" y2="364.90" stroke="#111" stroke-width="0.9" />
<text font-size="6.5" text-anchor="end" fill="#1a1a1a" x="33.70" y="367.24" >300</text>
<line x1="36.30" y1="382.50" x2="39.50" y2="382.50" stroke="#111" stroke-width="0.9" />
<text font-size="6.5" text-anchor="end" fill="#1a1a1a" x="33.70" y="384.84" >200</text>
<line x1="36.30" y1="400.10" x2="39.50" y2="400.10" stroke="#111" stroke-width="0.9" />
<text font-size="6.5" text-anchor="end" fill="#1a1a1a" x="33.70" y="402.44" >100</text>
<line x1="36.30" y1="417.75" x2="39.50" y2="417.75" stroke="#111" stroke-width="0.9" />
<text font-size="6.5" text-anchor="end" fill="#1a1a1a" x="33.70" y="420.09" >0</text>
<line x1="36.30" y1="417.75" x2="130.00" y2="417.75" stroke="#111" stroke-width="1.0" />
<line x1="51.05" y1="417.75" x2="51.05" y2="421.05" stroke="#111" stroke-width="1.0" />
<line x1="73.40" y1="417.75" x2="73.40" y2="421.05" stroke="#111" stroke-width="1.0" />
<line x1="95.80" y1="417.75" x2="95.80" y2="421.05" stroke="#111" stroke-width="1.0" />
<line x1="118.10" y1="417.75" x2="118.10" y2="421.05" stroke="#111" stroke-width="1.0" />
<line x1="51.25" y1="334.50" x2="118.10" y2="334.50" stroke="#3a3a3a" stroke-width="1.0" />
<rect x="80.80" y="330.30" width="1.6" height="1.4" rx="0.3" fill="#3a3a3a"/>
<rect x="83.80" y="330.30" width="1.6" height="1.4" rx="0.3" fill="#3a3a3a"/>
<rect x="86.80" y="330.30" width="1.6" height="1.4" rx="0.3" fill="#3a3a3a"/>
<line x1="51.25" y1="343.50" x2="95.90" y2="343.50" stroke="#3a3a3a" stroke-width="1.0" />
<rect x="69.70" y="339.50" width="1.6" height="1.4" rx="0.3" fill="#3a3a3a"/>
<rect x="72.70" y="339.50" width="1.6" height="1.4" rx="0.3" fill="#3a3a3a"/>
<rect x="75.70" y="339.50" width="1.6" height="1.4" rx="0.3" fill="#3a3a3a"/>
<line x1="51.25" y1="352.50" x2="73.40" y2="352.50" stroke="#3a3a3a" stroke-width="1.0" />
<rect x="58.50" y="348.70" width="1.6" height="1.4" rx="0.3" fill="#3a3a3a"/>
<rect x="61.50" y="348.70" width="1.6" height="1.4" rx="0.3" fill="#3a3a3a"/>
<rect x="64.50" y="348.70" width="1.6" height="1.4" rx="0.3" fill="#3a3a3a"/>
<text font-size="6.3" text-anchor="end" fill="#1a1a1a" transform="translate(54.25,427.55) rotate(-45)" >WT</text>
<text font-size="6.3" text-anchor="end" fill="#1a1a1a" transform="translate(76.60,427.55) rotate(-45)" >WT R18</text>
<text font-size="6.3" text-anchor="end" fill="#1a1a1a" transform="translate(99.00,427.55) rotate(-45)" >Sell-/-</text>
<text font-size="6.3" text-anchor="end" fill="#1a1a1a" transform="translate(121.30,427.55) rotate(-45)" >Sell-/- R18</text>
<text transform="translate(151.20,323.60) scale(1.05,1)" font-size="11.0" font-weight="bold" fill="#000" stroke="#000" stroke-width="0.35" stroke-linejoin="round">I</text>
<text font-size="6.8" text-anchor="middle" fill="#000" stroke="#000" stroke-width="0.12" textLength="10.00" lengthAdjust="spacingAndGlyphs" x="181.20" y="342.60" >WT</text>
<text font-size="6.8" text-anchor="start" fill="#000" stroke="#000" stroke-width="0.12" x="213.00" y="342.60" ><tspan font-style="italic">Sell</tspan><tspan font-size="3.6" dy="-2.6">-/-</tspan></text>
<text font-size="6.8" text-anchor="start" fill="#000" stroke="#000" stroke-width="0.12" textLength="33.30" lengthAdjust="spacingAndGlyphs" x="241.60" y="367.20" >Poly-L-Lysin</text>
<text font-size="6.8" text-anchor="start" fill="#000" stroke="#000" stroke-width="0.12" textLength="17.10" lengthAdjust="spacingAndGlyphs" x="241.60" y="404.00" >pRGD</text>
<rect x="162.6" y="347.0" width="36.80" height="35.70" fill="#050a04"/>
<rect x="201.3" y="347.0" width="36.80" height="35.70" fill="#040804"/>
<rect x="162.6" y="384.2" width="36.80" height="34.80" fill="#010201"/>
<rect x="201.3" y="384.2" width="36.80" height="34.80" fill="#040804"/>
<g clip-path="url(#c1)"><g filter="url(#bl1)">
<circle cx="180.2" cy="364.0" r="10.0" fill="#0b1b09"/>
<circle cx="181.8" cy="366.8" r="4.7" fill="none" stroke="#193d14" stroke-width="1.8"/>
<path d="M170.6,362.5 Q170.4,358.5 173.4,357.6" fill="none" stroke="#235a1b" stroke-width="2.0" stroke-linecap="round"/>
<path d="M176.4,357.0 Q180,355.4 184.2,357.2" fill="none" stroke="#1b4615" stroke-width="1.3" stroke-linecap="round"/>
<circle cx="171.4" cy="359.9" r="1.3" fill="#2f7224"/>
<circle cx="185.9" cy="364.1" r="1.1" fill="#3a8a2c"/>
<circle cx="177.4" cy="367.8" r="1.2" fill="#2f7224"/>
<circle cx="185.2" cy="371.0" r="1.0" fill="#2f7224"/>
<circle cx="178.8" cy="362.6" r="1.0" fill="#28641e"/>
<circle cx="183.0" cy="357.0" r="0.9" fill="#28641e"/>
<circle cx="177.2" cy="357.4" r="0.9" fill="#245a1c"/>
<circle cx="182.0" cy="362.0" r="0.9" fill="#245a1c"/>
<circle cx="181.0" cy="372.0" r="0.9" fill="#245a1c"/>
</g></g>
<g clip-path="url(#c2)"><g filter="url(#bl1)">
<circle cx="218.8" cy="364.7" r="10.8" fill="#081806"/>
<circle cx="218.8" cy="364.7" r="10.3" fill="none" stroke="#1c4a15" stroke-width="1.2"/><path d="M226.5,357.8 A10.3,10.3 0 0 1 228.6,368" fill="none" stroke="#2a6a1e" stroke-width="1.2"/>
<circle cx="218.2" cy="364.7" r="3.4" fill="#123410"/>
<circle cx="228.4" cy="361.6" r="0.9" fill="#348426"/>
<circle cx="222.6" cy="370.4" r="0.9" fill="#276a1c"/>
<circle cx="213.0" cy="363.5" r="0.8" fill="#205a18"/>
</g><path d="M216.8,363.8 L218.4,363.4 L219.2,365.2 L218.0,366.0 Z" fill="#4cb032" stroke="#4cb032" stroke-width="0.8" stroke-linejoin="round" filter="url(#bl07)"/></g>
<g clip-path="url(#c3)"><g filter="url(#bl1)">
<path d="M177,389.6 Q184,388.4 188.4,393.4 Q191.6,398.6 190,404.8 Q186.5,410.4 179.5,410.2 Q172.6,409.6 170,404.4 Q168.4,399.4 171.6,394.2 Q174,390.6 177,389.6 Z" fill="#0e2a08"/>
<path d="M178.0,390.6 Q175.2,392.8 175.0,395.4 Q173.6,398.8 171.8,401.0 Q170.0,403.4 172.0,407.0" stroke="#3c9821" stroke-width="3.4" fill="none" stroke-linecap="round"/>
<path d="M177.4,391.4 Q175.4,393.6 176.2,396.6" stroke="#78de3a" stroke-width="2.6" fill="none" stroke-linecap="round"/>
<path d="M176.6,396.4 Q178.6,399.8 182.1,404.0 Q184,405.8 186,406.4" stroke="#2a7419" stroke-width="2.0" fill="none" stroke-linecap="round"/>
<path d="M181.6,394.4 Q186.4,396.0 189.4,400.4 Q190.0,403 188.4,405.4" stroke="#256816" stroke-width="2.0" fill="none" stroke-linecap="round"/>
<circle cx="182.8" cy="395.0" r="1.4" fill="#66cc34"/>
<circle cx="189.4" cy="400.4" r="1.1" fill="#3f9a24"/>
<circle cx="170.8" cy="402.8" r="1.3" fill="#60c432"/>
<circle cx="173.2" cy="407.4" r="1.1" fill="#4cac28"/>
<path d="M176.8,409.0 Q180.5,409.8 184.7,408.6" stroke="#1c5010" stroke-width="1.3" fill="none"/>
<path d="M181.4,390.0 Q184.6,390.6 186.8,392.6" stroke="#225c13" stroke-width="1.2" fill="none"/>
<circle cx="175.8" cy="403.4" r="2.3" fill="#040c03"/>
<circle cx="184.4" cy="400.2" r="2.4" fill="#050f04"/>
</g></g>
<g clip-path="url(#c4)">
<rect x="206.6" y="384.2" width="1.4" height="34.8" fill="#1c1e1c"/>
<g filter="url(#bl1)">
<circle cx="220.6" cy="400.3" r="12.3" fill="#0b2009"/>
<circle cx="220.6" cy="400.3" r="11.7" fill="none" stroke="#19440f" stroke-width="1.4"/>
<circle cx="220.0" cy="399.8" r="3.0" fill="#11300e"/>
<circle cx="231.0" cy="400.0" r="0.9" fill="#28681c"/>
</g><path d="M218.8,400.3 L220.4,399.7 L221.0,398.4" fill="none" stroke="#378c26" stroke-width="1.5" stroke-linecap="round" stroke-linejoin="round" filter="url(#bl07)"/>
<rect x="226.9" y="415.7" width="10.4" height="1.5" fill="#ececec"/>
</g>
<text transform="translate(296.60,323.50) scale(1.05,1)" font-size="11.0" font-weight="bold" fill="#000" stroke="#000" stroke-width="0.35" stroke-linejoin="round">J</text>
<text font-size="8.0" text-anchor="middle" fill="#1a1a1a" textLength="55.30" lengthAdjust="spacingAndGlyphs" transform="translate(303.20,379.75) rotate(-90)" >Clustered cells [%]</text>
<line x1="340.25" y1="394.40" x2="340.25" y2="400.05" stroke="#222" stroke-width="0.9" />
<line x1="334.95" y1="394.40" x2="345.55" y2="394.40" stroke="#222" stroke-width="0.9" />
<rect x="330.25" y="399.75" width="20.00" height="18.45" fill="#a30028"/>
<line x1="366.50" y1="402.25" x2="366.50" y2="407.20" stroke="#222" stroke-width="0.9" />
<line x1="361.20" y1="402.25" x2="371.80" y2="402.25" stroke="#222" stroke-width="0.9" />
<rect x="356.50" y="406.90" width="20.00" height="11.30" fill="#2d4a7c"/>
<line x1="392.75" y1="366.60" x2="392.75" y2="371.20" stroke="#222" stroke-width="0.9" />
<line x1="387.45" y1="366.60" x2="398.05" y2="366.60" stroke="#222" stroke-width="0.9" />
<rect x="382.75" y="370.90" width="20.00" height="47.30" fill="#a30028"/>
<line x1="419.00" y1="409.40" x2="419.00" y2="411.55" stroke="#222" stroke-width="0.9" />
<line x1="413.70" y1="409.40" x2="424.30" y2="409.40" stroke="#222" stroke-width="0.9" />
<rect x="409.00" y="411.25" width="20.00" height="6.95" fill="#2d4a7c"/>
<line x1="324.50" y1="342.50" x2="324.50" y2="418.70" stroke="#111" stroke-width="1.0" />
<line x1="321.30" y1="345.25" x2="324.50" y2="345.25" stroke="#111" stroke-width="0.9" />
<text font-size="6.5" text-anchor="end" fill="#1a1a1a" x="318.70" y="347.59" >100</text>
<line x1="321.30" y1="359.85" x2="324.50" y2="359.85" stroke="#111" stroke-width="0.9" />
<text font-size="6.5" text-anchor="end" fill="#1a1a1a" x="318.70" y="362.19" >80</text>
<line x1="321.30" y1="374.40" x2="324.50" y2="374.40" stroke="#111" stroke-width="0.9" />
<text font-size="6.5" text-anchor="end" fill="#1a1a1a" x="318.70" y="376.74" >60</text>
<line x1="321.30" y1="389.00" x2="324.50" y2="389.00" stroke="#111" stroke-width="0.9" />
<text font-size="6.5" text-anchor="end" fill="#1a1a1a" x="318.70" y="391.34" >40</text>
<line x1="321.30" y1="403.60" x2="324.50" y2="403.60" stroke="#111" stroke-width="0.9" />
<text font-size="6.5" text-anchor="end" fill="#1a1a1a" x="318.70" y="405.94" >20</text>
<line x1="321.30" y1="418.20" x2="324.50" y2="418.20" stroke="#111" stroke-width="0.9" />
<text font-size="6.5" text-anchor="end" fill="#1a1a1a" x="318.70" y="420.54" >0</text>
<line x1="321.30" y1="418.20" x2="434.40" y2="418.20" stroke="#111" stroke-width="1.0" />
<line x1="336.50" y1="361.50" x2="392.50" y2="361.50" stroke="#3a3a3a" stroke-width="1.0" />
<rect x="362.20" y="358.00" width="1.6" height="1.4" rx="0.3" fill="#3a3a3a"/>
<rect x="365.20" y="358.00" width="1.6" height="1.4" rx="0.3" fill="#3a3a3a"/>
<line x1="393.00" y1="356.50" x2="418.75" y2="356.50" stroke="#3a3a3a" stroke-width="1.0" />
<rect x="401.70" y="353.00" width="1.6" height="1.4" rx="0.3" fill="#3a3a3a"/>
<rect x="404.70" y="353.00" width="1.6" height="1.4" rx="0.3" fill="#3a3a3a"/>
<rect x="407.70" y="353.00" width="1.6" height="1.4" rx="0.3" fill="#3a3a3a"/>
<rect x="424.10" y="348.40" width="8.40" height="3.50" fill="#a30028"/>
<rect x="424.10" y="356.25" width="8.40" height="3.50" fill="#2d4a7c"/>
<text font-size="6.5" text-anchor="start" fill="#000" stroke="#000" stroke-width="0.12" textLength="9.60" lengthAdjust="spacingAndGlyphs" x="435.40" y="352.20" >WT</text>
<text font-size="6.5" text-anchor="start" fill="#000" stroke="#000" stroke-width="0.12" textLength="16.30" lengthAdjust="spacingAndGlyphs" x="435.60" y="360.00" ><tspan font-style="italic">Sell</tspan>-/-</text>
<text font-size="6.5" text-anchor="middle" fill="#000" stroke="#000" stroke-width="0.12" textLength="33.30" lengthAdjust="spacingAndGlyphs" x="353.50" y="426.60" >Poly-L-Lysin</text>
<text font-size="6.5" text-anchor="middle" fill="#000" stroke="#000" stroke-width="0.12" textLength="17.00" lengthAdjust="spacingAndGlyphs" x="406.00" y="426.60" >pRGD</text>
<rect x="0" y="0" width="520" height="1" fill="#000"/><rect x="0" y="0" width="1" height="456" fill="#000"/><rect x="518.8" y="0" width="1.2" height="456" fill="#000"/><rect x="0" y="454.8" width="520" height="1.2" fill="#000"/>
</svg>
</body></html>
